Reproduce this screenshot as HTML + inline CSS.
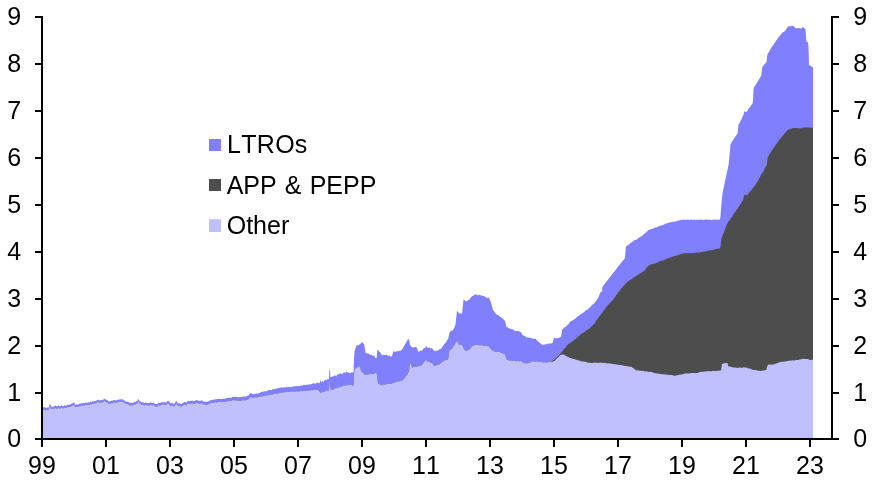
<!DOCTYPE html><html><head><meta charset="utf-8"><title>Chart</title><style>html,body{margin:0;padding:0;background:#fff}svg{display:block}text{font-family:"Liberation Sans",Arial,sans-serif;font-size:25px;fill:#000;font-kerning:none}.lg{word-spacing:1.2px}</style></head><body>
<svg width="875" height="482" viewBox="0 0 875 482">
<rect width="875" height="482" fill="#fff"/>
<path d="M42,439 L42.0,406.5 L42.5,406.5 L43.0,407.5 L43.5,407.5 L44.0,407.1 L44.5,407.1 L45.0,407.6 L45.5,407.6 L46.0,408.0 L46.5,408.0 L47.0,407.4 L47.5,407.5 L48.0,407.4 L48.5,407.5 L49.0,406.9 L49.5,404.8 L50.0,403.0 L50.5,404.6 L51.0,406.5 L51.5,406.5 L52.0,406.7 L52.5,406.7 L53.0,406.8 L53.5,406.8 L54.0,406.2 L54.5,406.1 L55.0,405.6 L55.5,405.6 L56.0,405.9 L56.5,405.8 L57.0,406.7 L57.5,406.6 L58.0,405.6 L58.5,405.6 L59.0,405.9 L59.5,405.8 L60.0,406.5 L60.5,406.4 L61.0,405.1 L61.5,405.1 L62.0,405.9 L62.5,405.8 L63.0,406.3 L63.5,406.2 L64.0,405.2 L64.5,405.2 L65.0,405.6 L65.5,405.4 L66.0,405.8 L66.5,405.7 L67.0,404.5 L67.5,404.4 L68.0,404.8 L68.5,404.7 L69.0,404.9 L69.5,404.7 L70.0,404.5 L70.5,404.4 L71.0,404.0 L71.5,403.8 L72.0,403.3 L72.5,403.2 L73.0,403.5 L73.5,402.7 L74.0,401.8 L74.5,403.3 L75.0,405.0 L75.5,404.7 L76.0,404.3 L76.5,404.2 L77.0,404.8 L77.5,404.7 L78.0,404.5 L78.5,404.4 L79.0,403.7 L79.5,403.6 L80.0,403.9 L80.5,403.8 L81.0,403.3 L81.5,403.2 L82.0,403.4 L82.5,403.3 L83.0,403.0 L83.5,403.0 L84.0,403.3 L84.5,403.2 L85.0,402.7 L85.5,402.6 L86.0,402.7 L86.5,402.6 L87.0,402.8 L87.5,402.8 L88.0,402.2 L88.5,402.1 L89.0,402.7 L89.5,402.7 L90.0,401.6 L90.5,401.5 L91.0,402.1 L91.5,402.0 L92.0,401.5 L92.5,401.4 L93.0,401.3 L93.5,401.2 L94.0,401.4 L94.5,401.3 L95.0,401.0 L95.5,400.9 L96.0,400.7 L96.5,400.6 L97.0,399.9 L97.5,399.8 L98.0,399.8 L98.5,399.7 L99.0,400.5 L99.5,400.4 L100.0,400.0 L100.5,399.9 L101.0,400.1 L101.5,400.0 L102.0,400.2 L102.5,400.1 L103.0,399.7 L103.5,399.6 L104.0,398.6 L104.5,398.7 L105.0,399.2 L105.5,399.3 L106.0,399.9 L106.5,400.0 L107.0,399.6 L107.5,399.8 L108.0,400.9 L108.5,401.1 L109.0,401.2 L109.5,401.3 L110.0,401.3 L110.5,401.2 L111.0,400.7 L111.5,400.6 L112.0,401.1 L112.5,401.0 L113.0,400.0 L113.5,399.9 L114.0,400.1 L114.5,400.0 L115.0,400.2 L115.5,400.2 L116.0,400.5 L116.5,400.4 L117.0,400.0 L117.5,400.0 L118.0,399.4 L118.5,399.4 L119.0,399.6 L119.5,399.6 L120.0,399.5 L120.5,399.4 L121.0,399.3 L121.5,399.3 L122.0,399.0 L122.5,399.2 L123.0,399.8 L123.5,400.0 L124.0,400.2 L124.5,400.4 L125.0,401.0 L125.5,401.2 L126.0,401.5 L126.5,401.7 L127.0,401.5 L127.5,401.7 L128.0,401.8 L128.5,402.0 L129.0,402.6 L129.5,402.8 L130.0,403.1 L130.5,403.1 L131.0,402.7 L131.5,402.7 L132.0,402.8 L132.5,402.7 L133.0,402.9 L133.5,402.8 L134.0,401.5 L134.5,401.4 L135.0,402.5 L135.5,402.3 L136.0,401.3 L136.5,401.1 L137.0,401.2 L137.5,401.0 L138.0,398.4 L138.5,399.3 L139.0,400.1 L139.5,400.9 L140.0,401.0 L140.5,401.3 L141.0,402.3 L141.5,402.5 L142.0,402.0 L142.5,402.0 L143.0,402.4 L143.5,402.4 L144.0,403.0 L144.5,403.0 L145.0,402.5 L145.5,402.5 L146.0,402.7 L146.5,402.7 L147.0,402.9 L147.5,402.9 L148.0,403.0 L148.5,403.0 L149.0,403.0 L149.5,403.0 L150.0,401.9 L150.5,402.0 L151.0,402.7 L151.5,402.8 L152.0,402.9 L152.5,403.0 L153.0,402.5 L153.5,402.6 L154.0,403.4 L154.5,403.5 L155.0,403.7 L155.5,403.8 L156.0,404.2 L156.5,404.1 L157.0,404.1 L157.5,404.0 L158.0,402.8 L158.5,402.7 L159.0,402.8 L159.5,402.7 L160.0,403.2 L160.5,403.1 L161.0,402.3 L161.5,402.2 L162.0,402.2 L162.5,402.1 L163.0,402.5 L163.5,402.4 L164.0,401.8 L164.5,401.7 L165.0,402.4 L165.5,402.4 L166.0,402.4 L166.5,402.3 L167.0,401.0 L167.5,400.9 L168.0,401.5 L168.5,401.1 L169.0,401.0 L169.5,401.8 L170.0,402.9 L170.5,403.7 L171.0,402.8 L171.5,402.9 L172.0,402.8 L172.5,402.8 L173.0,403.7 L173.5,403.7 L174.0,403.7 L174.5,403.7 L175.0,402.6 L175.5,402.6 L176.0,400.5 L176.5,401.1 L177.0,402.1 L177.5,402.7 L178.0,403.5 L178.5,403.6 L179.0,402.8 L179.5,402.9 L180.0,403.7 L180.5,403.8 L181.0,404.1 L181.5,404.0 L182.0,403.5 L182.5,403.3 L183.0,402.7 L183.5,402.5 L184.0,402.2 L184.5,402.0 L185.0,402.3 L185.5,402.1 L186.0,402.7 L186.5,402.6 L187.0,401.3 L187.5,401.2 L188.0,401.0 L188.5,400.9 L189.0,401.4 L189.5,401.3 L190.0,400.8 L190.5,400.8 L191.0,400.8 L191.5,400.7 L192.0,400.5 L192.5,400.4 L193.0,401.1 L193.5,401.0 L194.0,401.1 L194.5,401.1 L195.0,400.7 L195.5,400.6 L196.0,400.2 L196.5,400.1 L197.0,400.3 L197.5,400.2 L198.0,400.4 L198.5,400.4 L199.0,400.7 L199.5,400.8 L200.0,401.0 L200.5,401.1 L201.0,400.3 L201.5,400.4 L202.0,400.3 L202.5,400.4 L203.0,401.4 L203.5,401.5 L204.0,401.7 L204.5,401.8 L205.0,401.4 L205.5,401.6 L206.0,402.0 L206.5,401.8 L207.0,401.8 L207.5,401.7 L208.0,401.3 L208.5,401.2 L209.0,401.3 L209.5,401.2 L210.0,400.3 L210.5,400.1 L211.0,400.2 L211.5,400.1 L212.0,400.0 L212.5,399.9 L213.0,399.6 L213.5,399.5 L214.0,400.1 L214.5,399.9 L215.0,399.0 L215.5,398.9 L216.0,399.4 L216.5,399.3 L217.0,398.8 L217.5,398.7 L218.0,399.0 L218.5,398.9 L219.0,399.0 L219.5,398.9 L220.0,398.7 L220.5,398.7 L221.0,398.9 L221.5,398.9 L222.0,398.9 L222.5,398.9 L223.0,398.6 L223.5,398.6 L224.0,399.0 L224.5,398.9 L225.0,398.4 L225.5,398.3 L226.0,398.2 L226.5,398.1 L227.0,398.1 L227.5,398.0 L228.0,398.0 L228.5,397.8 L229.0,397.6 L229.5,397.5 L230.0,398.0 L230.5,397.9 L231.0,397.7 L231.5,397.6 L232.0,396.9 L232.5,396.8 L233.0,396.9 L233.5,396.9 L234.0,396.8 L234.5,396.8 L235.0,397.0 L235.5,397.0 L236.0,396.8 L236.5,396.8 L237.0,397.0 L237.5,397.0 L238.0,397.4 L238.5,397.4 L239.0,396.9 L239.5,396.9 L240.0,397.1 L240.5,397.1 L241.0,397.1 L241.5,397.0 L242.0,397.1 L242.5,397.0 L243.0,396.3 L243.5,396.2 L244.0,396.7 L244.5,396.6 L245.0,396.7 L245.5,396.6 L246.0,396.2 L246.5,396.2 L247.0,395.8 L247.5,395.7 L248.0,396.0 L248.5,395.3 L249.0,394.7 L249.5,394.1 L250.0,393.4 L250.5,393.5 L251.0,393.1 L251.5,393.2 L252.0,394.0 L252.5,394.1 L253.0,394.1 L253.5,394.2 L254.0,393.8 L254.5,393.9 L255.0,394.1 L255.5,393.9 L256.0,393.3 L256.5,393.2 L257.0,393.9 L257.5,393.8 L258.0,393.5 L258.5,393.3 L259.0,393.0 L259.5,392.9 L260.0,392.9 L260.5,392.8 L261.0,392.1 L261.5,392.0 L262.0,391.9 L262.5,391.8 L263.0,391.6 L263.5,391.5 L264.0,391.7 L264.5,391.5 L265.0,390.9 L265.5,390.8 L266.0,391.4 L266.5,391.3 L267.0,390.7 L267.5,390.6 L268.0,390.5 L268.5,390.3 L269.0,389.9 L269.5,389.8 L270.0,390.2 L270.5,390.1 L271.0,390.1 L271.5,390.0 L272.0,389.7 L272.5,389.6 L273.0,389.1 L273.5,389.0 L274.0,389.4 L274.5,389.3 L275.0,388.6 L275.5,388.5 L276.0,388.9 L276.5,388.8 L277.0,388.5 L277.5,388.4 L278.0,388.0 L278.5,387.9 L279.0,388.0 L279.5,387.9 L280.0,387.8 L280.5,387.7 L281.0,387.3 L281.5,387.2 L282.0,387.7 L282.5,387.7 L283.0,387.3 L283.5,387.3 L284.0,387.7 L284.5,387.6 L285.0,387.5 L285.5,387.5 L286.0,386.8 L286.5,386.8 L287.0,387.2 L287.5,387.2 L288.0,386.9 L288.5,386.8 L289.0,387.2 L289.5,387.2 L290.0,386.9 L290.5,386.9 L291.0,386.8 L291.5,386.8 L292.0,387.1 L292.5,387.1 L293.0,386.3 L293.5,386.2 L294.0,386.6 L294.5,386.5 L295.0,386.3 L295.5,386.2 L296.0,385.9 L296.5,385.8 L297.0,386.4 L297.5,386.3 L298.0,386.0 L298.5,386.0 L299.0,386.2 L299.5,386.1 L300.0,385.8 L300.5,385.7 L301.0,385.4 L301.5,385.3 L302.0,385.9 L302.5,385.8 L303.0,384.9 L303.5,384.9 L304.0,384.7 L304.5,384.7 L305.0,385.2 L305.5,385.1 L306.0,384.7 L306.5,384.7 L307.0,384.6 L307.5,384.5 L308.0,384.9 L308.5,384.8 L309.0,384.2 L309.5,384.2 L310.0,384.6 L310.5,384.5 L311.0,384.2 L311.5,384.1 L312.0,383.8 L312.5,383.7 L313.0,383.4 L313.5,383.3 L314.0,383.4 L314.5,383.3 L315.0,383.9 L315.5,383.8 L316.0,383.2 L316.5,383.1 L317.0,382.8 L317.5,382.7 L318.0,382.7 L318.5,382.6 L319.0,383.3 L319.5,383.2 L320.0,382.0 L320.5,379.1 L321.0,382.4 L321.5,382.2 L322.0,381.0 L322.5,380.8 L323.0,381.9 L323.5,381.7 L324.0,380.8 L324.5,380.6 L325.0,379.6 L325.5,379.4 L326.0,380.6 L326.5,380.4 L327.0,379.2 L327.5,379.0 L328.0,379.4 L328.5,379.1 L329.0,378.5 L329.5,369.5 L330.0,368.8 L330.5,377.2 L331.0,377.1 L331.5,376.9 L332.0,376.8 L332.5,376.6 L333.0,376.5 L333.5,376.2 L334.0,375.8 L334.5,375.6 L335.0,375.4 L335.5,375.2 L336.0,376.4 L336.5,376.2 L337.0,374.6 L337.5,374.4 L338.0,374.8 L338.5,374.6 L339.0,373.7 L339.5,373.5 L340.0,373.4 L340.5,373.3 L341.0,374.1 L341.5,373.9 L342.0,374.1 L342.5,374.0 L343.0,373.1 L343.5,373.0 L344.0,372.1 L344.5,372.0 L345.0,373.4 L345.5,373.3 L346.0,371.7 L346.5,371.7 L347.0,372.2 L347.5,372.2 L348.0,372.4 L348.5,372.4 L349.0,373.0 L349.5,373.0 L350.0,372.9 L350.5,372.9 L351.0,372.5 L351.5,372.5 L352.0,372.2 L352.5,372.2 L353.0,372.6 L353.5,372.6 L354.0,358.9 L354.5,351.9 L355.0,349.4 L355.5,348.2 L356.0,347.0 L356.5,345.8 L357.0,345.2 L357.5,345.1 L358.0,345.3 L358.5,345.3 L359.0,345.0 L359.5,344.6 L360.0,344.1 L360.5,343.5 L361.0,343.3 L361.5,342.9 L362.0,341.8 L362.5,341.9 L363.0,343.2 L363.5,343.8 L364.0,344.1 L364.5,346.2 L365.0,349.6 L365.5,352.3 L366.0,352.9 L366.5,353.1 L367.0,353.5 L367.5,353.7 L368.0,353.5 L368.5,353.6 L369.0,353.9 L369.5,354.0 L370.0,354.9 L370.5,355.1 L371.0,354.7 L371.5,354.8 L372.0,355.6 L372.5,355.8 L373.0,355.6 L373.5,355.7 L374.0,355.4 L374.5,356.0 L375.0,357.4 L375.5,358.0 L376.0,357.8 L376.5,358.4 L377.0,353.9 L377.5,350.0 L378.0,349.7 L378.5,350.2 L379.0,351.5 L379.5,352.0 L380.0,352.1 L380.5,352.7 L381.0,353.5 L381.5,354.1 L382.0,355.3 L382.5,355.3 L383.0,354.8 L383.5,354.8 L384.0,355.0 L384.5,355.0 L385.0,355.0 L385.5,355.0 L386.0,354.4 L386.5,354.4 L387.0,355.1 L387.5,355.4 L388.0,355.7 L388.5,355.9 L389.0,355.3 L389.5,355.6 L390.0,356.2 L390.5,356.4 L391.0,356.4 L391.5,356.6 L392.0,355.7 L392.5,354.4 L393.0,352.4 L393.5,351.0 L394.0,351.5 L394.5,351.4 L395.0,351.7 L395.5,351.7 L396.0,351.6 L396.5,351.5 L397.0,350.9 L397.5,350.8 L398.0,351.5 L398.5,351.4 L399.0,350.6 L399.5,350.5 L400.0,350.9 L400.5,350.7 L401.0,350.2 L401.5,350.1 L402.0,349.6 L402.5,348.6 L403.0,348.1 L403.5,347.1 L404.0,346.2 L404.5,345.2 L405.0,344.3 L405.5,343.4 L406.0,342.8 L406.5,342.0 L407.0,340.5 L407.5,340.1 L408.0,339.6 L408.5,339.2 L409.0,338.7 L409.5,341.6 L410.0,344.9 L410.5,345.6 L411.0,346.0 L411.5,346.7 L412.0,347.3 L412.5,347.3 L413.0,347.4 L413.5,347.4 L414.0,347.2 L414.5,347.2 L415.0,346.9 L415.5,346.9 L416.0,347.4 L416.5,347.4 L417.0,347.2 L417.5,349.2 L418.0,351.4 L418.5,351.3 L419.0,351.7 L419.5,351.6 L420.0,350.7 L420.5,350.6 L421.0,351.0 L421.5,350.8 L422.0,350.4 L422.5,349.9 L423.0,349.1 L423.5,348.6 L424.0,348.3 L424.5,347.9 L425.0,347.9 L425.5,347.4 L426.0,346.3 L426.5,346.6 L427.0,347.2 L427.5,347.4 L428.0,347.7 L428.5,347.8 L429.0,347.5 L429.5,347.6 L430.0,348.3 L430.5,348.4 L431.0,348.1 L431.5,348.2 L432.0,348.2 L432.5,348.8 L433.0,349.6 L433.5,350.2 L434.0,350.5 L434.5,351.1 L435.0,351.3 L435.5,351.1 L436.0,350.5 L436.5,350.4 L437.0,350.9 L437.5,350.8 L438.0,350.2 L438.5,350.1 L439.0,349.6 L439.5,349.5 L440.0,349.5 L440.5,348.9 L441.0,348.8 L441.5,348.2 L442.0,347.5 L442.5,346.8 L443.0,345.9 L443.5,345.3 L444.0,344.6 L444.5,343.9 L445.0,343.2 L445.5,342.5 L446.0,342.4 L446.5,341.7 L447.0,340.1 L447.5,339.4 L448.0,339.5 L448.5,337.3 L449.0,335.1 L449.5,333.0 L450.0,331.9 L450.5,331.5 L451.0,331.2 L451.5,330.8 L452.0,330.7 L452.5,330.3 L453.0,330.1 L453.5,329.0 L454.0,328.0 L454.5,326.9 L455.0,325.8 L455.5,324.7 L456.0,319.6 L456.5,315.2 L457.0,310.8 L457.5,311.3 L458.0,312.0 L458.5,312.5 L459.0,313.1 L459.5,313.2 L460.0,313.5 L460.5,313.6 L461.0,313.2 L461.5,313.4 L462.0,314.0 L462.5,309.1 L463.0,304.4 L463.5,299.4 L464.0,299.8 L464.5,300.2 L465.0,300.6 L465.5,301.0 L466.0,301.3 L466.5,301.2 L467.0,301.0 L467.5,300.9 L468.0,299.8 L468.5,299.6 L469.0,300.3 L469.5,299.7 L470.0,298.5 L470.5,297.9 L471.0,297.4 L471.5,296.8 L472.0,296.3 L472.5,295.8 L473.0,296.0 L473.5,295.7 L474.0,295.0 L474.5,294.7 L475.0,294.2 L475.5,294.3 L476.0,294.4 L476.5,294.5 L477.0,295.1 L477.5,295.2 L478.0,295.2 L478.5,295.3 L479.0,294.7 L479.5,294.8 L480.0,295.0 L480.5,295.2 L481.0,295.4 L481.5,295.6 L482.0,295.5 L482.5,295.7 L483.0,296.1 L483.5,296.3 L484.0,296.1 L484.5,296.2 L485.0,296.7 L485.5,296.9 L486.0,297.4 L486.5,297.6 L487.0,297.7 L487.5,297.9 L488.0,297.3 L488.5,297.5 L489.0,297.8 L489.5,299.0 L490.0,300.3 L490.5,301.5 L491.0,302.8 L491.5,304.7 L492.0,306.3 L492.5,308.2 L493.0,310.0 L493.5,310.6 L494.0,311.3 L494.5,311.9 L495.0,312.4 L495.5,313.0 L496.0,314.3 L496.5,314.6 L497.0,314.7 L497.5,315.0 L498.0,315.1 L498.5,315.4 L499.0,316.0 L499.5,316.3 L500.0,316.4 L500.5,316.9 L501.0,317.3 L501.5,317.8 L502.0,318.1 L502.5,318.5 L503.0,319.0 L503.5,319.3 L504.0,320.2 L504.5,320.6 L505.0,320.8 L505.5,323.0 L506.0,325.2 L506.5,327.3 L507.0,326.9 L507.5,327.2 L508.0,327.8 L508.5,328.1 L509.0,328.2 L509.5,328.5 L510.0,328.5 L510.5,328.6 L511.0,329.1 L511.5,329.2 L512.0,329.1 L512.5,329.2 L513.0,329.5 L513.5,329.7 L514.0,330.4 L514.5,330.5 L515.0,330.6 L515.5,330.7 L516.0,330.9 L516.5,331.1 L517.0,330.7 L517.5,330.8 L518.0,331.1 L518.5,331.3 L519.0,331.4 L519.5,331.6 L520.0,331.8 L520.5,332.0 L521.0,332.2 L521.5,332.7 L522.0,334.1 L522.5,334.7 L523.0,335.1 L523.5,335.7 L524.0,335.5 L524.5,335.7 L525.0,336.0 L525.5,336.2 L526.0,337.2 L526.5,337.4 L527.0,337.2 L527.5,337.4 L528.0,337.5 L528.5,337.5 L529.0,337.7 L529.5,337.8 L530.0,337.7 L530.5,337.7 L531.0,338.1 L531.5,338.2 L532.0,338.4 L532.5,338.5 L533.0,338.4 L533.5,338.6 L534.0,339.0 L534.5,339.1 L535.0,338.5 L535.5,338.6 L536.0,339.2 L536.5,339.8 L537.0,340.7 L537.5,341.3 L538.0,341.0 L538.5,341.6 L539.0,342.5 L539.5,342.8 L540.0,343.2 L540.5,343.5 L541.0,343.4 L541.5,343.7 L542.0,344.6 L542.5,344.9 L543.0,344.7 L543.5,344.6 L544.0,344.5 L544.5,344.4 L545.0,344.7 L545.5,344.6 L546.0,343.7 L546.5,343.6 L547.0,344.3 L547.5,344.2 L548.0,343.5 L548.5,343.4 L549.0,343.6 L549.5,343.6 L550.0,343.6 L550.5,343.6 L551.0,343.5 L551.5,343.5 L552.0,343.1 L552.5,343.1 L553.0,341.4 L553.5,339.5 L554.0,337.7 L554.5,337.7 L555.0,338.2 L555.5,338.2 L556.0,338.2 L556.5,338.2 L557.0,338.1 L557.5,337.9 L558.0,338.0 L558.5,337.9 L559.0,337.8 L559.5,337.6 L560.0,337.2 L560.5,337.1 L561.0,336.8 L561.5,333.9 L562.0,329.7 L562.5,329.3 L563.0,328.7 L563.5,328.2 L564.0,327.6 L564.5,327.2 L565.0,327.3 L565.5,326.9 L566.0,326.4 L566.5,326.0 L567.0,325.3 L567.5,324.9 L568.0,324.5 L568.5,324.1 L569.0,323.7 L569.5,322.6 L570.0,321.7 L570.5,321.5 L571.0,321.0 L571.5,320.9 L572.0,320.7 L572.5,320.6 L573.0,320.2 L573.5,319.8 L574.0,319.4 L574.5,319.0 L575.0,318.8 L575.5,318.4 L576.0,317.8 L576.5,317.4 L577.0,316.9 L577.5,316.5 L578.0,316.3 L578.5,315.9 L579.0,315.7 L579.5,315.3 L580.0,314.6 L580.5,314.2 L581.0,314.2 L581.5,313.9 L582.0,313.4 L582.5,313.1 L583.0,312.7 L583.5,312.4 L584.0,312.2 L584.5,311.8 L585.0,311.0 L585.5,310.6 L586.0,310.3 L586.5,310.0 L587.0,310.1 L587.5,309.7 L588.0,309.3 L588.5,308.8 L589.0,307.9 L589.5,307.5 L590.0,307.4 L590.5,307.0 L591.0,306.1 L591.5,305.6 L592.0,305.3 L592.5,304.8 L593.0,304.3 L593.5,303.9 L594.0,303.6 L594.5,302.9 L595.0,302.3 L595.5,301.6 L596.0,301.2 L596.5,300.5 L597.0,299.6 L597.5,298.9 L598.0,298.0 L598.5,297.3 L599.0,296.1 L599.5,294.6 L600.0,293.0 L600.5,292.5 L601.0,292.0 L601.5,291.4 L602.0,291.2 L602.5,286.8 L603.0,286.2 L603.5,285.6 L604.0,284.8 L604.5,284.1 L605.0,283.6 L605.5,282.9 L606.0,282.1 L606.5,281.5 L607.0,281.2 L607.5,280.5 L608.0,279.7 L608.5,279.1 L609.0,278.3 L609.5,277.7 L610.0,277.2 L610.5,276.6 L611.0,275.7 L611.5,275.1 L612.0,274.5 L612.5,273.8 L613.0,273.1 L613.5,272.4 L614.0,272.1 L614.5,271.5 L615.0,270.5 L615.5,269.9 L616.0,269.6 L616.5,269.0 L617.0,268.0 L617.5,267.3 L618.0,266.5 L618.5,265.9 L619.0,265.6 L619.5,264.9 L620.0,264.3 L620.5,263.6 L621.0,263.1 L621.5,262.5 L622.0,261.4 L622.5,260.8 L623.0,260.6 L623.5,260.0 L624.0,259.4 L624.5,258.8 L625.0,256.8 L625.5,251.1 L626.0,246.6 L626.5,246.2 L627.0,245.9 L627.5,245.5 L628.0,244.9 L628.5,244.4 L629.0,244.4 L629.5,244.0 L630.0,243.5 L630.5,243.1 L631.0,242.8 L631.5,242.5 L632.0,241.9 L632.5,241.6 L633.0,241.4 L633.5,241.1 L634.0,240.6 L634.5,240.3 L635.0,240.1 L635.5,239.8 L636.0,239.7 L636.5,239.4 L637.0,239.3 L637.5,239.0 L638.0,238.2 L638.5,237.9 L639.0,237.5 L639.5,237.2 L640.0,236.9 L640.5,236.6 L641.0,236.6 L641.5,236.3 L642.0,236.0 L642.5,235.6 L643.0,234.8 L643.5,234.4 L644.0,234.1 L644.5,233.7 L645.0,233.3 L645.5,232.9 L646.0,232.6 L646.5,232.2 L647.0,231.4 L647.5,230.9 L648.0,230.4 L648.5,230.0 L649.0,230.0 L649.5,229.8 L650.0,229.5 L650.5,229.3 L651.0,229.1 L651.5,228.9 L652.0,229.0 L652.5,228.8 L653.0,228.6 L653.5,228.4 L654.0,227.8 L654.5,227.6 L655.0,227.7 L655.5,227.5 L656.0,227.5 L656.5,227.3 L657.0,227.2 L657.5,227.0 L658.0,226.2 L658.5,226.1 L659.0,226.4 L659.5,226.2 L660.0,225.5 L660.5,225.4 L661.0,225.6 L661.5,225.4 L662.0,225.2 L662.5,225.0 L663.0,225.0 L663.5,224.8 L664.0,224.5 L664.5,224.3 L665.0,223.8 L665.5,223.6 L666.0,223.8 L666.5,223.6 L667.0,223.2 L667.5,223.0 L668.0,223.1 L668.5,223.0 L669.0,222.4 L669.5,222.3 L670.0,222.4 L670.5,222.2 L671.0,222.3 L671.5,222.2 L672.0,221.8 L672.5,221.7 L673.0,221.9 L673.5,221.8 L674.0,221.7 L674.5,221.6 L675.0,221.5 L675.5,221.4 L676.0,221.4 L676.5,221.3 L677.0,220.9 L677.5,220.8 L678.0,220.5 L678.5,220.4 L679.0,220.4 L679.5,220.3 L680.0,220.3 L680.5,220.1 L681.0,219.8 L681.5,219.7 L682.0,220.0 L682.5,219.9 L683.0,219.4 L683.5,219.4 L684.0,219.4 L684.5,219.4 L685.0,220.0 L685.5,220.0 L686.0,219.9 L686.5,219.9 L687.0,219.6 L687.5,219.6 L688.0,219.6 L688.5,219.6 L689.0,219.9 L689.5,219.9 L690.0,219.8 L690.5,219.8 L691.0,219.6 L691.5,219.6 L692.0,219.7 L692.5,219.7 L693.0,219.9 L693.5,219.9 L694.0,219.4 L694.5,219.4 L695.0,220.0 L695.5,220.0 L696.0,219.7 L696.5,219.7 L697.0,219.5 L697.5,219.5 L698.0,219.9 L698.5,219.9 L699.0,219.4 L699.5,219.4 L700.0,219.6 L700.5,219.6 L701.0,219.7 L701.5,219.7 L702.0,219.5 L702.5,219.5 L703.0,219.9 L703.5,219.9 L704.0,219.8 L704.5,219.8 L705.0,219.5 L705.5,219.5 L706.0,219.5 L706.5,219.5 L707.0,219.4 L707.5,219.4 L708.0,219.7 L708.5,219.7 L709.0,219.5 L709.5,219.5 L710.0,219.7 L710.5,219.7 L711.0,219.9 L711.5,219.9 L712.0,219.9 L712.5,219.9 L713.0,219.5 L713.5,219.5 L714.0,219.6 L714.5,219.6 L715.0,219.7 L715.5,219.7 L716.0,219.6 L716.5,219.6 L717.0,219.7 L717.5,219.7 L718.0,219.7 L718.5,219.6 L719.0,219.7 L719.5,219.6 L720.0,219.2 L720.5,215.9 L721.0,208.4 L721.5,203.2 L722.0,198.1 L722.5,193.4 L723.0,190.9 L723.5,188.4 L724.0,186.3 L724.5,183.8 L725.0,181.3 L725.5,178.8 L726.0,176.8 L726.5,174.6 L727.0,172.3 L727.5,170.0 L728.0,167.4 L728.5,165.1 L729.0,160.9 L729.5,155.4 L730.0,150.2 L730.5,144.5 L731.0,143.6 L731.5,142.7 L732.0,141.5 L732.5,140.7 L733.0,140.2 L733.5,139.4 L734.0,138.5 L734.5,137.8 L735.0,137.3 L735.5,136.5 L736.0,135.7 L736.5,135.0 L737.0,134.4 L737.5,133.6 L738.0,129.8 L738.5,124.6 L739.0,123.8 L739.5,123.0 L740.0,121.7 L740.5,120.9 L741.0,120.1 L741.5,119.2 L742.0,118.1 L742.5,116.7 L743.0,115.8 L743.5,114.4 L744.0,112.6 L744.5,111.2 L745.0,111.4 L745.5,111.7 L746.0,111.9 L746.5,111.8 L747.0,111.3 L747.5,110.7 L748.0,109.7 L748.5,109.1 L749.0,108.2 L749.5,107.6 L750.0,107.0 L750.5,106.4 L751.0,105.5 L751.5,104.8 L752.0,104.3 L752.5,103.6 L753.0,101.1 L753.5,90.2 L754.0,87.1 L754.5,86.3 L755.0,86.1 L755.5,85.3 L756.0,84.3 L756.5,83.5 L757.0,82.6 L757.5,81.8 L758.0,81.3 L758.5,80.4 L759.0,79.2 L759.5,78.4 L760.0,77.7 L760.5,76.8 L761.0,76.4 L761.5,73.6 L762.0,69.2 L762.5,66.5 L763.0,66.2 L763.5,65.7 L764.0,64.7 L764.5,64.1 L765.0,63.8 L765.5,63.3 L766.0,62.8 L766.5,62.2 L767.0,56.9 L767.5,54.3 L768.0,53.5 L768.5,52.6 L769.0,51.8 L769.5,50.9 L770.0,50.0 L770.5,49.1 L771.0,48.0 L771.5,47.2 L772.0,46.6 L772.5,45.9 L773.0,45.5 L773.5,44.8 L774.0,43.7 L774.5,43.0 L775.0,42.5 L775.5,41.8 L776.0,40.8 L776.5,40.0 L777.0,39.5 L777.5,38.8 L778.0,38.1 L778.5,37.4 L779.0,36.8 L779.5,36.1 L780.0,35.5 L780.5,34.9 L781.0,34.3 L781.5,33.7 L782.0,33.0 L782.5,32.5 L783.0,32.3 L783.5,32.0 L784.0,31.7 L784.5,31.4 L785.0,30.8 L785.5,30.5 L786.0,29.8 L786.5,28.8 L787.0,27.5 L787.5,26.9 L788.0,26.6 L788.5,26.4 L789.0,26.3 L789.5,26.1 L790.0,26.4 L790.5,26.3 L791.0,26.2 L791.5,26.1 L792.0,25.8 L792.5,25.7 L793.0,26.0 L793.5,26.3 L794.0,26.5 L794.5,27.1 L795.0,27.8 L795.5,28.1 L796.0,28.3 L796.5,28.3 L797.0,28.3 L797.5,28.4 L798.0,28.1 L798.5,28.1 L799.0,28.0 L799.5,28.1 L800.0,28.4 L800.5,28.4 L801.0,28.6 L801.5,28.6 L802.0,27.9 L802.5,27.1 L803.0,27.1 L803.5,27.5 L804.0,28.0 L804.5,28.3 L805.0,28.7 L805.5,28.9 L806.0,36.1 L806.5,41.8 L807.0,41.8 L807.5,42.0 L808.0,42.5 L808.5,46.5 L809.0,64.9 L809.5,65.2 L810.0,65.4 L810.5,65.7 L811.0,66.1 L811.5,66.4 L812.0,66.9 L812.5,67.0 L813.0,67.2 L813,439 Z" fill="#8080ff"/>
<path d="M42,439 L42.0,408.8 L42.5,408.8 L43.0,409.8 L43.5,409.9 L44.0,409.4 L44.5,409.4 L45.0,409.9 L45.5,409.9 L46.0,410.3 L46.5,410.3 L47.0,409.7 L47.5,409.8 L48.0,409.7 L48.5,409.8 L49.0,409.2 L49.5,407.1 L50.0,405.3 L50.5,406.9 L51.0,408.8 L51.5,408.8 L52.0,409.0 L52.5,409.0 L53.0,409.1 L53.5,409.1 L54.0,408.5 L54.5,408.4 L55.0,408.0 L55.5,407.9 L56.0,408.2 L56.5,408.2 L57.0,409.0 L57.5,409.0 L58.0,407.9 L58.5,407.9 L59.0,408.2 L59.5,408.2 L60.0,408.8 L60.5,408.8 L61.0,407.5 L61.5,407.4 L62.0,408.2 L62.5,408.1 L63.0,408.6 L63.5,408.6 L64.0,407.5 L64.5,407.5 L65.0,407.9 L65.5,407.8 L66.0,408.1 L66.5,408.0 L67.0,406.8 L67.5,406.7 L68.0,407.1 L68.5,407.0 L69.0,407.2 L69.5,407.1 L70.0,406.8 L70.5,406.7 L71.0,406.3 L71.5,406.2 L72.0,405.7 L72.5,405.5 L73.0,405.8 L73.5,405.1 L74.0,404.2 L74.5,405.7 L75.0,407.3 L75.5,407.1 L76.0,406.6 L76.5,406.6 L77.0,407.1 L77.5,407.0 L78.0,406.9 L78.5,406.8 L79.0,406.0 L79.5,405.9 L80.0,406.2 L80.5,406.1 L81.0,405.6 L81.5,405.5 L82.0,405.7 L82.5,405.6 L83.0,405.4 L83.5,405.3 L84.0,405.6 L84.5,405.5 L85.0,405.1 L85.5,405.0 L86.0,405.0 L86.5,404.9 L87.0,405.2 L87.5,405.1 L88.0,404.6 L88.5,404.5 L89.0,405.1 L89.5,405.0 L90.0,403.9 L90.5,403.8 L91.0,404.5 L91.5,404.4 L92.0,403.8 L92.5,403.7 L93.0,403.6 L93.5,403.5 L94.0,403.7 L94.5,403.6 L95.0,403.4 L95.5,403.3 L96.0,403.0 L96.5,402.9 L97.0,402.3 L97.5,402.2 L98.0,402.2 L98.5,402.1 L99.0,402.8 L99.5,402.7 L100.0,402.4 L100.5,402.3 L101.0,402.4 L101.5,402.3 L102.0,402.6 L102.5,402.5 L103.0,402.0 L103.5,401.9 L104.0,400.9 L104.5,401.1 L105.0,401.6 L105.5,401.7 L106.0,402.2 L106.5,402.4 L107.0,402.0 L107.5,402.1 L108.0,403.3 L108.5,403.4 L109.0,403.5 L109.5,403.7 L110.0,403.7 L110.5,403.6 L111.0,403.0 L111.5,403.0 L112.0,403.4 L112.5,403.4 L113.0,402.3 L113.5,402.3 L114.0,402.5 L114.5,402.4 L115.0,402.6 L115.5,402.5 L116.0,402.9 L116.5,402.8 L117.0,402.4 L117.5,402.3 L118.0,401.8 L118.5,401.7 L119.0,402.0 L119.5,401.9 L120.0,401.8 L120.5,401.8 L121.0,401.7 L121.5,401.6 L122.0,401.4 L122.5,401.6 L123.0,402.1 L123.5,402.3 L124.0,402.6 L124.5,402.8 L125.0,403.4 L125.5,403.6 L126.0,403.8 L126.5,404.0 L127.0,403.8 L127.5,404.0 L128.0,404.1 L128.5,404.3 L129.0,405.0 L129.5,405.2 L130.0,405.5 L130.5,405.5 L131.0,405.1 L131.5,405.0 L132.0,405.2 L132.5,405.1 L133.0,405.2 L133.5,405.2 L134.0,403.9 L134.5,403.8 L135.0,404.9 L135.5,404.7 L136.0,403.7 L136.5,403.5 L137.0,403.6 L137.5,403.4 L138.0,400.8 L138.5,401.7 L139.0,402.4 L139.5,403.3 L140.0,403.4 L140.5,403.7 L141.0,404.7 L141.5,404.9 L142.0,404.4 L142.5,404.4 L143.0,404.8 L143.5,404.8 L144.0,405.4 L144.5,405.4 L145.0,404.9 L145.5,404.9 L146.0,405.1 L146.5,405.1 L147.0,405.3 L147.5,405.3 L148.0,405.4 L148.5,405.4 L149.0,405.4 L149.5,405.4 L150.0,404.3 L150.5,404.4 L151.0,405.1 L151.5,405.2 L152.0,405.3 L152.5,405.4 L153.0,405.0 L153.5,405.0 L154.0,405.8 L154.5,405.9 L155.0,406.1 L155.5,406.2 L156.0,406.6 L156.5,406.5 L157.0,406.6 L157.5,406.5 L158.0,405.3 L158.5,405.2 L159.0,405.2 L159.5,405.2 L160.0,405.7 L160.5,405.6 L161.0,404.8 L161.5,404.7 L162.0,404.7 L162.5,404.6 L163.0,405.0 L163.5,404.9 L164.0,404.3 L164.5,404.2 L165.0,405.0 L165.5,404.9 L166.0,404.9 L166.5,404.8 L167.0,403.6 L167.5,403.5 L168.0,404.1 L168.5,403.6 L169.0,403.6 L169.5,404.4 L170.0,405.4 L170.5,406.2 L171.0,405.4 L171.5,405.5 L172.0,405.4 L172.5,405.4 L173.0,406.3 L173.5,406.3 L174.0,406.3 L174.5,406.3 L175.0,405.2 L175.5,405.2 L176.0,403.1 L176.5,403.7 L177.0,404.7 L177.5,405.3 L178.0,406.1 L178.5,406.2 L179.0,405.4 L179.5,405.5 L180.0,406.3 L180.5,406.5 L181.0,406.8 L181.5,406.6 L182.0,406.1 L182.5,406.0 L183.0,405.3 L183.5,405.2 L184.0,404.9 L184.5,404.7 L185.0,404.9 L185.5,404.8 L186.0,405.4 L186.5,405.3 L187.0,404.0 L187.5,403.9 L188.0,403.7 L188.5,403.7 L189.0,404.1 L189.5,404.0 L190.0,403.5 L190.5,403.5 L191.0,403.5 L191.5,403.5 L192.0,403.2 L192.5,403.2 L193.0,403.8 L193.5,403.7 L194.0,403.9 L194.5,403.8 L195.0,403.4 L195.5,403.3 L196.0,402.9 L196.5,402.9 L197.0,403.0 L197.5,403.0 L198.0,403.2 L198.5,403.2 L199.0,403.5 L199.5,403.6 L200.0,403.8 L200.5,403.9 L201.0,403.2 L201.5,403.3 L202.0,403.1 L202.5,403.3 L203.0,404.3 L203.5,404.4 L204.0,404.6 L204.5,404.7 L205.0,404.3 L205.5,404.4 L206.0,404.9 L206.5,404.7 L207.0,404.7 L207.5,404.6 L208.0,404.2 L208.5,404.1 L209.0,404.2 L209.5,404.1 L210.0,403.2 L210.5,403.1 L211.0,403.2 L211.5,403.1 L212.0,403.0 L212.5,402.9 L213.0,402.6 L213.5,402.5 L214.0,403.1 L214.5,403.0 L215.0,402.1 L215.5,402.0 L216.0,402.4 L216.5,402.4 L217.0,401.8 L217.5,401.8 L218.0,402.1 L218.5,402.0 L219.0,402.1 L219.5,402.0 L220.0,401.8 L220.5,401.8 L221.0,402.1 L221.5,402.1 L222.0,402.1 L222.5,402.0 L223.0,401.8 L223.5,401.8 L224.0,402.2 L224.5,402.1 L225.0,401.6 L225.5,401.5 L226.0,401.4 L226.5,401.3 L227.0,401.4 L227.5,401.3 L228.0,401.2 L228.5,401.1 L229.0,400.9 L229.5,400.8 L230.0,401.3 L230.5,401.2 L231.0,401.1 L231.5,401.0 L232.0,400.2 L232.5,400.1 L233.0,400.3 L233.5,400.3 L234.0,400.2 L234.5,400.2 L235.0,400.4 L235.5,400.4 L236.0,400.3 L236.5,400.3 L237.0,400.5 L237.5,400.5 L238.0,400.9 L238.5,400.9 L239.0,400.4 L239.5,400.4 L240.0,400.7 L240.5,400.7 L241.0,400.7 L241.5,400.6 L242.0,400.7 L242.5,400.6 L243.0,399.9 L243.5,399.8 L244.0,400.4 L244.5,400.3 L245.0,400.4 L245.5,400.3 L246.0,399.9 L246.5,399.9 L247.0,399.5 L247.5,399.4 L248.0,399.7 L248.5,399.1 L249.0,398.5 L249.5,397.9 L250.0,397.2 L250.5,397.3 L251.0,396.9 L251.5,396.9 L252.0,397.7 L252.5,397.7 L253.0,397.7 L253.5,397.8 L254.0,397.4 L254.5,397.4 L255.0,397.3 L255.5,397.2 L256.0,397.5 L256.5,397.4 L257.0,397.4 L257.5,397.4 L258.0,397.0 L258.5,396.9 L259.0,396.6 L259.5,396.5 L260.0,396.7 L260.5,396.7 L261.0,396.4 L261.5,396.3 L262.0,396.6 L262.5,396.5 L263.0,396.0 L263.5,395.9 L264.0,395.8 L264.5,395.7 L265.0,395.8 L265.5,395.7 L266.0,395.6 L266.5,395.5 L267.0,395.3 L267.5,395.2 L268.0,395.2 L268.5,395.1 L269.0,395.2 L269.5,395.1 L270.0,394.8 L270.5,394.7 L271.0,394.3 L271.5,394.2 L272.0,394.4 L272.5,394.3 L273.0,394.2 L273.5,394.1 L274.0,394.0 L274.5,393.9 L275.0,393.5 L275.5,393.4 L276.0,393.4 L276.5,393.3 L277.0,393.7 L277.5,393.6 L278.0,393.4 L278.5,393.3 L279.0,393.2 L279.5,393.1 L280.0,392.9 L280.5,392.8 L281.0,392.5 L281.5,392.4 L282.0,392.7 L282.5,392.7 L283.0,392.2 L283.5,392.2 L284.0,392.3 L284.5,392.3 L285.0,392.2 L285.5,392.2 L286.0,392.0 L286.5,392.0 L287.0,391.8 L287.5,391.8 L288.0,391.8 L288.5,391.8 L289.0,391.9 L289.5,391.9 L290.0,391.6 L290.5,391.6 L291.0,391.6 L291.5,391.5 L292.0,391.5 L292.5,391.4 L293.0,391.4 L293.5,391.4 L294.0,391.7 L294.5,391.7 L295.0,391.4 L295.5,391.4 L296.0,391.0 L296.5,391.0 L297.0,391.5 L297.5,391.4 L298.0,391.3 L298.5,391.2 L299.0,391.4 L299.5,391.4 L300.0,391.1 L300.5,391.1 L301.0,391.0 L301.5,390.9 L302.0,391.3 L302.5,391.3 L303.0,390.8 L303.5,390.7 L304.0,390.8 L304.5,390.8 L305.0,390.9 L305.5,390.8 L306.0,391.1 L306.5,391.0 L307.0,390.4 L307.5,390.4 L308.0,390.5 L308.5,390.4 L309.0,390.5 L309.5,390.5 L310.0,390.5 L310.5,390.5 L311.0,390.0 L311.5,390.0 L312.0,390.4 L312.5,390.3 L313.0,390.1 L313.5,390.1 L314.0,390.0 L314.5,390.0 L315.0,389.8 L315.5,389.8 L316.0,389.7 L316.5,389.6 L317.0,390.1 L317.5,390.0 L318.0,390.1 L318.5,390.9 L319.0,390.8 L319.5,391.5 L320.0,392.3 L320.5,393.1 L321.0,393.0 L321.5,392.3 L322.0,391.8 L322.5,392.0 L323.0,392.2 L323.5,392.3 L324.0,391.9 L324.5,391.6 L325.0,391.3 L325.5,391.1 L326.0,390.7 L326.5,390.5 L327.0,390.6 L327.5,390.4 L328.0,390.4 L328.5,390.4 L329.0,390.7 L329.5,381.8 L330.0,380.8 L330.5,389.4 L331.0,389.4 L331.5,389.3 L332.0,389.9 L332.5,389.9 L333.0,389.8 L333.5,389.6 L334.0,388.8 L334.5,388.6 L335.0,388.4 L335.5,388.2 L336.0,388.0 L336.5,387.8 L337.0,388.3 L337.5,388.2 L338.0,387.6 L338.5,387.4 L339.0,387.1 L339.5,387.0 L340.0,387.3 L340.5,387.1 L341.0,386.3 L341.5,386.2 L342.0,386.5 L342.5,386.4 L343.0,385.7 L343.5,385.5 L344.0,385.3 L344.5,385.2 L345.0,385.7 L345.5,385.6 L346.0,385.5 L346.5,385.5 L347.0,385.1 L347.5,385.1 L348.0,385.0 L348.5,385.0 L349.0,385.4 L349.5,385.3 L350.0,384.6 L350.5,384.6 L351.0,384.8 L351.5,384.8 L352.0,385.5 L352.5,385.4 L353.0,385.4 L353.5,385.4 L354.0,375.4 L354.5,369.6 L355.0,368.9 L355.5,368.3 L356.0,368.2 L356.5,367.9 L357.0,367.4 L357.5,367.1 L358.0,367.0 L358.5,366.7 L359.0,366.5 L359.5,366.5 L360.0,366.3 L360.5,368.4 L361.0,370.7 L361.5,371.3 L362.0,371.8 L362.5,372.5 L363.0,372.5 L363.5,373.0 L364.0,373.9 L364.5,374.4 L365.0,374.9 L365.5,375.0 L366.0,375.0 L366.5,374.9 L367.0,374.7 L367.5,374.6 L368.0,374.4 L368.5,374.3 L369.0,374.4 L369.5,374.3 L370.0,373.7 L370.5,373.7 L371.0,373.8 L371.5,373.8 L372.0,374.0 L372.5,374.0 L373.0,374.2 L373.5,374.2 L374.0,373.8 L374.5,373.6 L375.0,373.2 L375.5,373.0 L376.0,372.9 L376.5,373.4 L377.0,374.0 L377.5,379.3 L378.0,383.4 L378.5,383.6 L379.0,384.1 L379.5,384.3 L380.0,384.7 L380.5,384.8 L381.0,384.6 L381.5,384.7 L382.0,385.4 L382.5,385.2 L383.0,384.7 L383.5,384.6 L384.0,384.6 L384.5,384.5 L385.0,384.7 L385.5,384.6 L386.0,384.3 L386.5,384.2 L387.0,383.9 L387.5,383.9 L388.0,384.1 L388.5,384.1 L389.0,383.9 L389.5,383.9 L390.0,384.1 L390.5,384.1 L391.0,383.7 L391.5,383.7 L392.0,383.4 L392.5,383.1 L393.0,383.3 L393.5,383.1 L394.0,382.8 L394.5,382.7 L395.0,382.4 L395.5,382.3 L396.0,381.8 L396.5,381.6 L397.0,382.1 L397.5,381.9 L398.0,381.1 L398.5,381.0 L399.0,381.6 L399.5,381.5 L400.0,380.9 L400.5,380.8 L401.0,380.6 L401.5,380.5 L402.0,380.9 L402.5,380.4 L403.0,379.9 L403.5,379.4 L404.0,378.8 L404.5,378.3 L405.0,377.8 L405.5,377.1 L406.0,375.9 L406.5,375.2 L407.0,375.1 L407.5,374.2 L408.0,373.2 L408.5,372.3 L409.0,371.2 L409.5,366.7 L410.0,362.4 L410.5,363.6 L411.0,364.5 L411.5,365.8 L412.0,367.5 L412.5,367.5 L413.0,367.3 L413.5,367.3 L414.0,366.8 L414.5,366.8 L415.0,366.8 L415.5,366.7 L416.0,366.7 L416.5,366.7 L417.0,366.8 L417.5,366.6 L418.0,366.3 L418.5,366.2 L419.0,366.1 L419.5,366.0 L420.0,366.0 L420.5,365.9 L421.0,365.5 L421.5,365.3 L422.0,365.1 L422.5,364.5 L423.0,363.6 L423.5,363.0 L424.0,362.3 L424.5,361.7 L425.0,361.1 L425.5,360.5 L426.0,359.6 L426.5,360.0 L427.0,360.9 L427.5,361.4 L428.0,361.2 L428.5,361.4 L429.0,361.9 L429.5,362.1 L430.0,362.6 L430.5,362.8 L431.0,362.4 L431.5,362.6 L432.0,363.2 L432.5,363.8 L433.0,364.6 L433.5,365.2 L434.0,365.9 L434.5,366.5 L435.0,365.8 L435.5,365.6 L436.0,365.5 L436.5,365.3 L437.0,365.3 L437.5,365.1 L438.0,364.7 L438.5,364.4 L439.0,364.4 L439.5,364.2 L440.0,363.8 L440.5,363.5 L441.0,362.6 L441.5,362.2 L442.0,362.0 L442.5,361.7 L443.0,361.7 L443.5,361.3 L444.0,360.6 L444.5,360.5 L445.0,360.3 L445.5,360.2 L446.0,360.0 L446.5,359.9 L447.0,359.7 L447.5,359.6 L448.0,359.8 L448.5,356.7 L449.0,353.4 L449.5,350.2 L450.0,350.2 L450.5,349.8 L451.0,348.8 L451.5,348.4 L452.0,348.6 L452.5,348.2 L453.0,347.2 L453.5,346.3 L454.0,345.9 L454.5,345.0 L455.0,343.8 L455.5,342.9 L456.0,342.4 L456.5,341.8 L457.0,341.0 L457.5,341.9 L458.0,342.6 L458.5,343.5 L459.0,345.0 L459.5,345.0 L460.0,344.8 L460.5,344.8 L461.0,344.5 L461.5,344.5 L462.0,344.8 L462.5,346.0 L463.0,347.0 L463.5,348.3 L464.0,349.0 L464.5,349.6 L465.0,350.2 L465.5,350.8 L466.0,351.4 L466.5,351.1 L467.0,350.6 L467.5,350.3 L468.0,350.2 L468.5,349.9 L469.0,349.9 L469.5,349.3 L470.0,348.7 L470.5,348.1 L471.0,347.7 L471.5,347.1 L472.0,346.4 L472.5,345.8 L473.0,345.8 L473.5,345.7 L474.0,345.3 L474.5,345.1 L475.0,344.9 L475.5,344.9 L476.0,344.9 L476.5,345.0 L477.0,344.8 L477.5,344.8 L478.0,345.0 L478.5,345.0 L479.0,345.2 L479.5,345.2 L480.0,345.3 L480.5,345.4 L481.0,345.0 L481.5,345.1 L482.0,345.5 L482.5,345.5 L483.0,345.6 L483.5,345.7 L484.0,345.7 L484.5,345.8 L485.0,346.0 L485.5,346.1 L486.0,346.0 L486.5,346.1 L487.0,346.1 L487.5,346.2 L488.0,346.4 L488.5,346.5 L489.0,346.3 L489.5,347.0 L490.0,347.7 L490.5,348.4 L491.0,349.4 L491.5,349.9 L492.0,350.3 L492.5,350.7 L493.0,351.1 L493.5,351.1 L494.0,351.4 L494.5,351.5 L495.0,351.7 L495.5,351.8 L496.0,351.8 L496.5,351.8 L497.0,351.7 L497.5,351.7 L498.0,352.0 L498.5,352.0 L499.0,351.5 L499.5,351.5 L500.0,352.1 L500.5,352.4 L501.0,352.6 L501.5,352.9 L502.0,353.0 L502.5,353.2 L503.0,353.6 L503.5,353.7 L504.0,354.1 L504.5,354.2 L505.0,354.2 L505.5,355.9 L506.0,357.7 L506.5,359.4 L507.0,359.6 L507.5,359.8 L508.0,360.1 L508.5,360.3 L509.0,360.5 L509.5,360.7 L510.0,360.5 L510.5,360.5 L511.0,360.4 L511.5,360.4 L512.0,360.7 L512.5,360.7 L513.0,360.8 L513.5,360.9 L514.0,360.8 L514.5,360.9 L515.0,361.1 L515.5,361.1 L516.0,361.5 L516.5,361.5 L517.0,361.0 L517.5,361.0 L518.0,361.1 L518.5,361.1 L519.0,361.4 L519.5,361.4 L520.0,361.0 L520.5,361.0 L521.0,361.1 L521.5,361.4 L522.0,361.8 L522.5,362.1 L523.0,362.6 L523.5,362.9 L524.0,363.2 L524.5,363.3 L525.0,362.9 L525.5,363.0 L526.0,363.5 L526.5,363.5 L527.0,363.3 L527.5,363.3 L528.0,363.2 L528.5,362.9 L529.0,362.7 L529.5,362.5 L530.0,362.4 L530.5,362.2 L531.0,362.2 L531.5,361.9 L532.0,361.2 L532.5,361.2 L533.0,361.3 L533.5,361.3 L534.0,361.7 L534.5,361.7 L535.0,361.7 L535.5,361.7 L536.0,361.3 L536.5,361.4 L537.0,361.4 L537.5,361.4 L538.0,361.9 L538.5,361.9 L539.0,362.1 L539.5,362.2 L540.0,361.8 L540.5,361.8 L541.0,362.2 L541.5,362.3 L542.0,362.1 L542.5,362.2 L543.0,362.6 L543.5,362.6 L544.0,362.3 L544.5,362.3 L545.0,362.3 L545.5,362.3 L546.0,362.5 L546.5,362.5 L547.0,362.8 L547.5,362.8 L548.0,362.2 L548.5,362.1 L549.0,362.1 L549.5,362.1 L550.0,362.1 L550.5,362.0 L551.0,362.3 L551.5,362.3 L552.0,360.9 L552.5,360.5 L553.0,360.5 L553.5,360.1 L554.0,359.9 L554.5,359.5 L555.0,358.6 L555.5,358.2 L556.0,358.1 L556.5,357.6 L557.0,356.9 L557.5,356.4 L558.0,356.2 L558.5,355.7 L559.0,355.3 L559.5,354.8 L560.0,353.8 L560.5,353.2 L561.0,353.1 L561.5,352.5 L562.0,351.6 L562.5,351.0 L563.0,350.7 L563.5,350.1 L564.0,349.0 L564.5,348.4 L565.0,348.2 L565.5,347.6 L566.0,346.7 L566.5,346.1 L567.0,345.7 L567.5,345.1 L568.0,344.4 L568.5,343.8 L569.0,343.8 L569.5,343.5 L570.0,342.8 L570.5,342.5 L571.0,342.2 L571.5,341.9 L572.0,341.6 L572.5,341.3 L573.0,340.9 L573.5,340.5 L574.0,340.1 L574.5,339.6 L575.0,339.5 L575.5,339.1 L576.0,338.5 L576.5,338.1 L577.0,337.8 L577.5,337.4 L578.0,336.6 L578.5,336.1 L579.0,335.9 L579.5,335.5 L580.0,334.8 L580.5,334.4 L581.0,334.1 L581.5,333.7 L582.0,333.6 L582.5,333.3 L583.0,333.0 L583.5,332.7 L584.0,332.4 L584.5,332.1 L585.0,331.6 L585.5,331.3 L586.0,330.6 L586.5,330.3 L587.0,330.1 L587.5,329.8 L588.0,329.6 L588.5,329.1 L589.0,328.8 L589.5,328.4 L590.0,327.9 L590.5,327.5 L591.0,326.8 L591.5,326.3 L592.0,326.1 L592.5,325.7 L593.0,324.8 L593.5,324.4 L594.0,324.2 L594.5,323.5 L595.0,322.9 L595.5,322.2 L596.0,321.0 L596.5,320.3 L597.0,319.6 L597.5,318.9 L598.0,318.3 L598.5,317.6 L599.0,316.8 L599.5,316.1 L600.0,315.4 L600.5,314.7 L601.0,314.2 L601.5,313.6 L602.0,312.9 L602.5,312.2 L603.0,311.4 L603.5,310.8 L604.0,310.2 L604.5,309.5 L605.0,308.6 L605.5,308.0 L606.0,307.5 L606.5,306.9 L607.0,306.2 L607.5,305.6 L608.0,305.1 L608.5,304.5 L609.0,304.1 L609.5,303.5 L610.0,303.2 L610.5,302.6 L611.0,301.8 L611.5,301.2 L612.0,300.9 L612.5,300.4 L613.0,299.8 L613.5,299.3 L614.0,298.5 L614.5,297.8 L615.0,297.1 L615.5,296.4 L616.0,295.3 L616.5,294.6 L617.0,294.4 L617.5,293.7 L618.0,292.6 L618.5,291.9 L619.0,291.7 L619.5,291.0 L620.0,290.1 L620.5,289.4 L621.0,288.6 L621.5,288.0 L622.0,288.0 L622.5,287.4 L623.0,286.3 L623.5,285.8 L624.0,285.7 L624.5,285.1 L625.0,284.4 L625.5,283.8 L626.0,283.3 L626.5,282.7 L627.0,282.0 L627.5,281.7 L628.0,281.2 L628.5,280.9 L629.0,280.8 L629.5,280.4 L630.0,280.0 L630.5,279.7 L631.0,279.5 L631.5,279.2 L632.0,279.0 L632.5,278.7 L633.0,277.8 L633.5,277.5 L634.0,277.3 L634.5,276.9 L635.0,276.8 L635.5,276.5 L636.0,275.9 L636.5,275.6 L637.0,275.5 L637.5,275.2 L638.0,274.9 L638.5,274.6 L639.0,274.1 L639.5,273.8 L640.0,273.4 L640.5,273.1 L641.0,273.1 L641.5,272.8 L642.0,272.3 L642.5,272.0 L643.0,271.9 L643.5,271.6 L644.0,270.9 L644.5,270.3 L645.0,270.0 L645.5,269.4 L646.0,268.4 L646.5,267.8 L647.0,267.4 L647.5,266.8 L648.0,266.0 L648.5,265.4 L649.0,265.5 L649.5,265.3 L650.0,264.7 L650.5,264.6 L651.0,264.6 L651.5,264.5 L652.0,264.1 L652.5,264.0 L653.0,264.0 L653.5,263.8 L654.0,263.6 L654.5,263.5 L655.0,263.4 L655.5,263.2 L656.0,263.0 L656.5,262.8 L657.0,262.5 L657.5,262.4 L658.0,262.2 L658.5,262.0 L659.0,261.6 L659.5,261.4 L660.0,261.2 L660.5,261.0 L661.0,260.8 L661.5,260.6 L662.0,260.9 L662.5,260.7 L663.0,260.4 L663.5,260.2 L664.0,260.1 L664.5,259.9 L665.0,259.5 L665.5,259.3 L666.0,258.9 L666.5,258.7 L667.0,258.4 L667.5,258.2 L668.0,258.3 L668.5,258.1 L669.0,258.2 L669.5,258.0 L670.0,257.8 L670.5,257.6 L671.0,257.0 L671.5,256.9 L672.0,256.9 L672.5,256.7 L673.0,256.4 L673.5,256.3 L674.0,256.2 L674.5,256.0 L675.0,256.1 L675.5,256.0 L676.0,255.6 L676.5,255.4 L677.0,255.4 L677.5,255.2 L678.0,254.9 L678.5,254.8 L679.0,254.7 L679.5,254.5 L680.0,254.3 L680.5,254.2 L681.0,254.2 L681.5,254.0 L682.0,253.5 L682.5,253.4 L683.0,253.8 L683.5,253.8 L684.0,253.2 L684.5,253.2 L685.0,253.1 L685.5,253.1 L686.0,253.5 L686.5,253.5 L687.0,253.2 L687.5,253.1 L688.0,252.9 L688.5,252.8 L689.0,253.0 L689.5,252.9 L690.0,253.2 L690.5,253.2 L691.0,253.1 L691.5,253.1 L692.0,253.0 L692.5,253.0 L693.0,253.0 L693.5,253.0 L694.0,252.8 L694.5,252.7 L695.0,253.0 L695.5,252.9 L696.0,252.5 L696.5,252.5 L697.0,252.6 L697.5,252.6 L698.0,252.7 L698.5,252.7 L699.0,252.5 L699.5,252.5 L700.0,252.2 L700.5,252.1 L701.0,252.1 L701.5,252.0 L702.0,252.2 L702.5,252.1 L703.0,251.8 L703.5,251.7 L704.0,251.5 L704.5,251.4 L705.0,251.5 L705.5,251.4 L706.0,251.0 L706.5,250.9 L707.0,251.1 L707.5,251.0 L708.0,250.7 L708.5,250.6 L709.0,250.6 L709.5,250.5 L710.0,250.3 L710.5,250.2 L711.0,250.4 L711.5,250.3 L712.0,249.8 L712.5,249.7 L713.0,250.0 L713.5,249.9 L714.0,249.7 L714.5,249.6 L715.0,249.2 L715.5,249.1 L716.0,248.9 L716.5,248.8 L717.0,248.8 L717.5,248.6 L718.0,248.6 L718.5,248.5 L719.0,248.7 L719.5,248.6 L720.0,248.3 L720.5,246.6 L721.0,242.0 L721.5,237.8 L722.0,236.7 L722.5,235.6 L723.0,234.1 L723.5,233.0 L724.0,232.3 L724.5,230.9 L725.0,229.5 L725.5,228.1 L726.0,226.7 L726.5,225.3 L727.0,224.0 L727.5,223.3 L728.0,222.3 L728.5,221.6 L729.0,221.1 L729.5,220.4 L730.0,219.8 L730.5,219.1 L731.0,218.3 L731.5,217.6 L732.0,217.0 L732.5,216.2 L733.0,215.1 L733.5,214.4 L734.0,213.6 L734.5,212.8 L735.0,212.2 L735.5,211.4 L736.0,210.8 L736.5,210.1 L737.0,209.5 L737.5,208.7 L738.0,207.9 L738.5,207.2 L739.0,206.3 L739.5,205.5 L740.0,204.7 L740.5,203.9 L741.0,203.4 L741.5,202.6 L742.0,201.6 L742.5,200.8 L743.0,200.1 L743.5,198.3 L744.0,195.9 L744.5,194.6 L745.0,194.9 L745.5,194.9 L746.0,194.7 L746.5,194.7 L747.0,195.2 L747.5,195.1 L748.0,193.9 L748.5,193.3 L749.0,192.6 L749.5,192.0 L750.0,191.6 L750.5,191.0 L751.0,190.6 L751.5,190.0 L752.0,188.9 L752.5,188.4 L753.0,187.8 L753.5,187.2 L754.0,186.6 L754.5,186.1 L755.0,185.4 L755.5,184.6 L756.0,184.1 L756.5,183.2 L757.0,182.2 L757.5,181.4 L758.0,180.8 L758.5,179.9 L759.0,178.6 L759.5,177.7 L760.0,177.0 L760.5,176.1 L761.0,174.9 L761.5,174.0 L762.0,173.3 L762.5,172.4 L763.0,171.9 L763.5,171.0 L764.0,169.9 L764.5,168.9 L765.0,167.8 L765.5,166.9 L766.0,166.2 L766.5,165.2 L767.0,163.9 L767.5,158.1 L768.0,156.9 L768.5,155.9 L769.0,155.2 L769.5,154.2 L770.0,153.3 L770.5,152.3 L771.0,151.7 L771.5,151.0 L772.0,150.1 L772.5,149.4 L773.0,148.8 L773.5,148.1 L774.0,147.6 L774.5,146.9 L775.0,146.0 L775.5,145.3 L776.0,144.3 L776.5,143.5 L777.0,143.2 L777.5,142.4 L778.0,141.4 L778.5,140.7 L779.0,140.3 L779.5,139.7 L780.0,139.1 L780.5,138.6 L781.0,137.9 L781.5,137.3 L782.0,136.5 L782.5,136.0 L783.0,135.6 L783.5,135.0 L784.0,134.2 L784.5,133.6 L785.0,133.3 L785.5,132.8 L786.0,132.1 L786.5,131.4 L787.0,130.5 L787.5,130.2 L788.0,130.0 L788.5,129.8 L789.0,129.4 L789.5,129.2 L790.0,129.0 L790.5,128.9 L791.0,128.7 L791.5,128.6 L792.0,128.5 L792.5,128.4 L793.0,128.0 L793.5,127.9 L794.0,127.8 L794.5,127.8 L795.0,128.3 L795.5,128.3 L796.0,127.9 L796.5,128.0 L797.0,128.1 L797.5,128.1 L798.0,128.4 L798.5,128.4 L799.0,128.3 L799.5,128.3 L800.0,128.3 L800.5,128.4 L801.0,128.2 L801.5,128.2 L802.0,127.9 L802.5,127.4 L803.0,127.4 L803.5,127.4 L804.0,127.4 L804.5,127.4 L805.0,127.4 L805.5,127.4 L806.0,127.3 L806.5,127.4 L807.0,127.5 L807.5,127.6 L808.0,127.4 L808.5,127.4 L809.0,127.6 L809.5,127.6 L810.0,127.5 L810.5,127.5 L811.0,127.7 L811.5,127.7 L812.0,127.7 L812.5,127.7 L813.0,128.3 L813,439 Z" fill="#4d4d4d"/>
<path d="M42,439 L42.0,408.8 L42.5,408.8 L43.0,409.8 L43.5,409.9 L44.0,409.4 L44.5,409.4 L45.0,409.9 L45.5,409.9 L46.0,410.3 L46.5,410.3 L47.0,409.7 L47.5,409.8 L48.0,409.7 L48.5,409.8 L49.0,409.2 L49.5,407.1 L50.0,405.3 L50.5,406.9 L51.0,408.8 L51.5,408.8 L52.0,409.0 L52.5,409.0 L53.0,409.1 L53.5,409.1 L54.0,408.5 L54.5,408.4 L55.0,408.0 L55.5,407.9 L56.0,408.2 L56.5,408.2 L57.0,409.0 L57.5,409.0 L58.0,407.9 L58.5,407.9 L59.0,408.2 L59.5,408.2 L60.0,408.8 L60.5,408.8 L61.0,407.5 L61.5,407.4 L62.0,408.2 L62.5,408.1 L63.0,408.6 L63.5,408.6 L64.0,407.5 L64.5,407.5 L65.0,407.9 L65.5,407.8 L66.0,408.1 L66.5,408.0 L67.0,406.8 L67.5,406.7 L68.0,407.1 L68.5,407.0 L69.0,407.2 L69.5,407.1 L70.0,406.8 L70.5,406.7 L71.0,406.3 L71.5,406.2 L72.0,405.7 L72.5,405.5 L73.0,405.8 L73.5,405.1 L74.0,404.2 L74.5,405.7 L75.0,407.3 L75.5,407.1 L76.0,406.6 L76.5,406.6 L77.0,407.1 L77.5,407.0 L78.0,406.9 L78.5,406.8 L79.0,406.0 L79.5,405.9 L80.0,406.2 L80.5,406.1 L81.0,405.6 L81.5,405.5 L82.0,405.7 L82.5,405.6 L83.0,405.4 L83.5,405.3 L84.0,405.6 L84.5,405.5 L85.0,405.1 L85.5,405.0 L86.0,405.0 L86.5,404.9 L87.0,405.2 L87.5,405.1 L88.0,404.6 L88.5,404.5 L89.0,405.1 L89.5,405.0 L90.0,403.9 L90.5,403.8 L91.0,404.5 L91.5,404.4 L92.0,403.8 L92.5,403.7 L93.0,403.6 L93.5,403.5 L94.0,403.7 L94.5,403.6 L95.0,403.4 L95.5,403.3 L96.0,403.0 L96.5,402.9 L97.0,402.3 L97.5,402.2 L98.0,402.2 L98.5,402.1 L99.0,402.8 L99.5,402.7 L100.0,402.4 L100.5,402.3 L101.0,402.4 L101.5,402.3 L102.0,402.6 L102.5,402.5 L103.0,402.0 L103.5,401.9 L104.0,400.9 L104.5,401.1 L105.0,401.6 L105.5,401.7 L106.0,402.2 L106.5,402.4 L107.0,402.0 L107.5,402.1 L108.0,403.3 L108.5,403.4 L109.0,403.5 L109.5,403.7 L110.0,403.7 L110.5,403.6 L111.0,403.0 L111.5,403.0 L112.0,403.4 L112.5,403.4 L113.0,402.3 L113.5,402.3 L114.0,402.5 L114.5,402.4 L115.0,402.6 L115.5,402.5 L116.0,402.9 L116.5,402.8 L117.0,402.4 L117.5,402.3 L118.0,401.8 L118.5,401.7 L119.0,402.0 L119.5,401.9 L120.0,401.8 L120.5,401.8 L121.0,401.7 L121.5,401.6 L122.0,401.4 L122.5,401.6 L123.0,402.1 L123.5,402.3 L124.0,402.6 L124.5,402.8 L125.0,403.4 L125.5,403.6 L126.0,403.8 L126.5,404.0 L127.0,403.8 L127.5,404.0 L128.0,404.1 L128.5,404.3 L129.0,405.0 L129.5,405.2 L130.0,405.5 L130.5,405.5 L131.0,405.1 L131.5,405.0 L132.0,405.2 L132.5,405.1 L133.0,405.2 L133.5,405.2 L134.0,403.9 L134.5,403.8 L135.0,404.9 L135.5,404.7 L136.0,403.7 L136.5,403.5 L137.0,403.6 L137.5,403.4 L138.0,400.8 L138.5,401.7 L139.0,402.4 L139.5,403.3 L140.0,403.4 L140.5,403.7 L141.0,404.7 L141.5,404.9 L142.0,404.4 L142.5,404.4 L143.0,404.8 L143.5,404.8 L144.0,405.4 L144.5,405.4 L145.0,404.9 L145.5,404.9 L146.0,405.1 L146.5,405.1 L147.0,405.3 L147.5,405.3 L148.0,405.4 L148.5,405.4 L149.0,405.4 L149.5,405.4 L150.0,404.3 L150.5,404.4 L151.0,405.1 L151.5,405.2 L152.0,405.3 L152.5,405.4 L153.0,405.0 L153.5,405.0 L154.0,405.8 L154.5,405.9 L155.0,406.1 L155.5,406.2 L156.0,406.6 L156.5,406.5 L157.0,406.6 L157.5,406.5 L158.0,405.3 L158.5,405.2 L159.0,405.2 L159.5,405.2 L160.0,405.7 L160.5,405.6 L161.0,404.8 L161.5,404.7 L162.0,404.7 L162.5,404.6 L163.0,405.0 L163.5,404.9 L164.0,404.3 L164.5,404.2 L165.0,405.0 L165.5,404.9 L166.0,404.9 L166.5,404.8 L167.0,403.6 L167.5,403.5 L168.0,404.1 L168.5,403.6 L169.0,403.6 L169.5,404.4 L170.0,405.4 L170.5,406.2 L171.0,405.4 L171.5,405.5 L172.0,405.4 L172.5,405.4 L173.0,406.3 L173.5,406.3 L174.0,406.3 L174.5,406.3 L175.0,405.2 L175.5,405.2 L176.0,403.1 L176.5,403.7 L177.0,404.7 L177.5,405.3 L178.0,406.1 L178.5,406.2 L179.0,405.4 L179.5,405.5 L180.0,406.3 L180.5,406.5 L181.0,406.8 L181.5,406.6 L182.0,406.1 L182.5,406.0 L183.0,405.3 L183.5,405.2 L184.0,404.9 L184.5,404.7 L185.0,404.9 L185.5,404.8 L186.0,405.4 L186.5,405.3 L187.0,404.0 L187.5,403.9 L188.0,403.7 L188.5,403.7 L189.0,404.1 L189.5,404.0 L190.0,403.5 L190.5,403.5 L191.0,403.5 L191.5,403.5 L192.0,403.2 L192.5,403.2 L193.0,403.8 L193.5,403.7 L194.0,403.9 L194.5,403.8 L195.0,403.4 L195.5,403.3 L196.0,402.9 L196.5,402.9 L197.0,403.0 L197.5,403.0 L198.0,403.2 L198.5,403.2 L199.0,403.5 L199.5,403.6 L200.0,403.8 L200.5,403.9 L201.0,403.2 L201.5,403.3 L202.0,403.1 L202.5,403.3 L203.0,404.3 L203.5,404.4 L204.0,404.6 L204.5,404.7 L205.0,404.3 L205.5,404.4 L206.0,404.9 L206.5,404.7 L207.0,404.7 L207.5,404.6 L208.0,404.2 L208.5,404.1 L209.0,404.2 L209.5,404.1 L210.0,403.2 L210.5,403.1 L211.0,403.2 L211.5,403.1 L212.0,403.0 L212.5,402.9 L213.0,402.6 L213.5,402.5 L214.0,403.1 L214.5,403.0 L215.0,402.1 L215.5,402.0 L216.0,402.4 L216.5,402.4 L217.0,401.8 L217.5,401.8 L218.0,402.1 L218.5,402.0 L219.0,402.1 L219.5,402.0 L220.0,401.8 L220.5,401.8 L221.0,402.1 L221.5,402.1 L222.0,402.1 L222.5,402.0 L223.0,401.8 L223.5,401.8 L224.0,402.2 L224.5,402.1 L225.0,401.6 L225.5,401.5 L226.0,401.4 L226.5,401.3 L227.0,401.4 L227.5,401.3 L228.0,401.2 L228.5,401.1 L229.0,400.9 L229.5,400.8 L230.0,401.3 L230.5,401.2 L231.0,401.1 L231.5,401.0 L232.0,400.2 L232.5,400.1 L233.0,400.3 L233.5,400.3 L234.0,400.2 L234.5,400.2 L235.0,400.4 L235.5,400.4 L236.0,400.3 L236.5,400.3 L237.0,400.5 L237.5,400.5 L238.0,400.9 L238.5,400.9 L239.0,400.4 L239.5,400.4 L240.0,400.7 L240.5,400.7 L241.0,400.7 L241.5,400.6 L242.0,400.7 L242.5,400.6 L243.0,399.9 L243.5,399.8 L244.0,400.4 L244.5,400.3 L245.0,400.4 L245.5,400.3 L246.0,399.9 L246.5,399.9 L247.0,399.5 L247.5,399.4 L248.0,399.7 L248.5,399.1 L249.0,398.5 L249.5,397.9 L250.0,397.2 L250.5,397.3 L251.0,396.9 L251.5,396.9 L252.0,397.7 L252.5,397.7 L253.0,397.7 L253.5,397.8 L254.0,397.4 L254.5,397.4 L255.0,397.3 L255.5,397.2 L256.0,397.5 L256.5,397.4 L257.0,397.4 L257.5,397.4 L258.0,397.0 L258.5,396.9 L259.0,396.6 L259.5,396.5 L260.0,396.7 L260.5,396.7 L261.0,396.4 L261.5,396.3 L262.0,396.6 L262.5,396.5 L263.0,396.0 L263.5,395.9 L264.0,395.8 L264.5,395.7 L265.0,395.8 L265.5,395.7 L266.0,395.6 L266.5,395.5 L267.0,395.3 L267.5,395.2 L268.0,395.2 L268.5,395.1 L269.0,395.2 L269.5,395.1 L270.0,394.8 L270.5,394.7 L271.0,394.3 L271.5,394.2 L272.0,394.4 L272.5,394.3 L273.0,394.2 L273.5,394.1 L274.0,394.0 L274.5,393.9 L275.0,393.5 L275.5,393.4 L276.0,393.4 L276.5,393.3 L277.0,393.7 L277.5,393.6 L278.0,393.4 L278.5,393.3 L279.0,393.2 L279.5,393.1 L280.0,392.9 L280.5,392.8 L281.0,392.5 L281.5,392.4 L282.0,392.7 L282.5,392.7 L283.0,392.2 L283.5,392.2 L284.0,392.3 L284.5,392.3 L285.0,392.2 L285.5,392.2 L286.0,392.0 L286.5,392.0 L287.0,391.8 L287.5,391.8 L288.0,391.8 L288.5,391.8 L289.0,391.9 L289.5,391.9 L290.0,391.6 L290.5,391.6 L291.0,391.6 L291.5,391.5 L292.0,391.5 L292.5,391.4 L293.0,391.4 L293.5,391.4 L294.0,391.7 L294.5,391.7 L295.0,391.4 L295.5,391.4 L296.0,391.0 L296.5,391.0 L297.0,391.5 L297.5,391.4 L298.0,391.3 L298.5,391.2 L299.0,391.4 L299.5,391.4 L300.0,391.1 L300.5,391.1 L301.0,391.0 L301.5,390.9 L302.0,391.3 L302.5,391.3 L303.0,390.8 L303.5,390.7 L304.0,390.8 L304.5,390.8 L305.0,390.9 L305.5,390.8 L306.0,391.1 L306.5,391.0 L307.0,390.4 L307.5,390.4 L308.0,390.5 L308.5,390.4 L309.0,390.5 L309.5,390.5 L310.0,390.5 L310.5,390.5 L311.0,390.0 L311.5,390.0 L312.0,390.4 L312.5,390.3 L313.0,390.1 L313.5,390.1 L314.0,390.0 L314.5,390.0 L315.0,389.8 L315.5,389.8 L316.0,389.7 L316.5,389.6 L317.0,390.1 L317.5,390.0 L318.0,390.1 L318.5,390.9 L319.0,390.8 L319.5,391.5 L320.0,392.3 L320.5,393.1 L321.0,393.0 L321.5,392.3 L322.0,391.8 L322.5,392.0 L323.0,392.2 L323.5,392.3 L324.0,391.9 L324.5,391.6 L325.0,391.3 L325.5,391.1 L326.0,390.7 L326.5,390.5 L327.0,390.6 L327.5,390.4 L328.0,390.4 L328.5,390.4 L329.0,390.7 L329.5,381.8 L330.0,380.8 L330.5,389.4 L331.0,389.4 L331.5,389.3 L332.0,389.9 L332.5,389.9 L333.0,389.8 L333.5,389.6 L334.0,388.8 L334.5,388.6 L335.0,388.4 L335.5,388.2 L336.0,388.0 L336.5,387.8 L337.0,388.3 L337.5,388.2 L338.0,387.6 L338.5,387.4 L339.0,387.1 L339.5,387.0 L340.0,387.3 L340.5,387.1 L341.0,386.3 L341.5,386.2 L342.0,386.5 L342.5,386.4 L343.0,385.7 L343.5,385.5 L344.0,385.3 L344.5,385.2 L345.0,385.7 L345.5,385.6 L346.0,385.5 L346.5,385.5 L347.0,385.1 L347.5,385.1 L348.0,385.0 L348.5,385.0 L349.0,385.4 L349.5,385.3 L350.0,384.6 L350.5,384.6 L351.0,384.8 L351.5,384.8 L352.0,385.5 L352.5,385.4 L353.0,385.4 L353.5,385.4 L354.0,375.4 L354.5,369.6 L355.0,368.9 L355.5,368.3 L356.0,368.2 L356.5,367.9 L357.0,367.4 L357.5,367.1 L358.0,367.0 L358.5,366.7 L359.0,366.5 L359.5,366.5 L360.0,366.3 L360.5,368.4 L361.0,370.7 L361.5,371.3 L362.0,371.8 L362.5,372.5 L363.0,372.5 L363.5,373.0 L364.0,373.9 L364.5,374.4 L365.0,374.9 L365.5,375.0 L366.0,375.0 L366.5,374.9 L367.0,374.7 L367.5,374.6 L368.0,374.4 L368.5,374.3 L369.0,374.4 L369.5,374.3 L370.0,373.7 L370.5,373.7 L371.0,373.8 L371.5,373.8 L372.0,374.0 L372.5,374.0 L373.0,374.2 L373.5,374.2 L374.0,373.8 L374.5,373.6 L375.0,373.2 L375.5,373.0 L376.0,372.9 L376.5,373.4 L377.0,374.0 L377.5,379.3 L378.0,383.4 L378.5,383.6 L379.0,384.1 L379.5,384.3 L380.0,384.7 L380.5,384.8 L381.0,384.6 L381.5,384.7 L382.0,385.4 L382.5,385.2 L383.0,384.7 L383.5,384.6 L384.0,384.6 L384.5,384.5 L385.0,384.7 L385.5,384.6 L386.0,384.3 L386.5,384.2 L387.0,383.9 L387.5,383.9 L388.0,384.1 L388.5,384.1 L389.0,383.9 L389.5,383.9 L390.0,384.1 L390.5,384.1 L391.0,383.7 L391.5,383.7 L392.0,383.4 L392.5,383.1 L393.0,383.3 L393.5,383.1 L394.0,382.8 L394.5,382.7 L395.0,382.4 L395.5,382.3 L396.0,381.8 L396.5,381.6 L397.0,382.1 L397.5,381.9 L398.0,381.1 L398.5,381.0 L399.0,381.6 L399.5,381.5 L400.0,380.9 L400.5,380.8 L401.0,380.6 L401.5,380.5 L402.0,380.9 L402.5,380.4 L403.0,379.9 L403.5,379.4 L404.0,378.8 L404.5,378.3 L405.0,377.8 L405.5,377.1 L406.0,375.9 L406.5,375.2 L407.0,375.1 L407.5,374.2 L408.0,373.2 L408.5,372.3 L409.0,371.2 L409.5,366.7 L410.0,362.4 L410.5,363.6 L411.0,364.5 L411.5,365.8 L412.0,367.5 L412.5,367.5 L413.0,367.3 L413.5,367.3 L414.0,366.8 L414.5,366.8 L415.0,366.8 L415.5,366.7 L416.0,366.7 L416.5,366.7 L417.0,366.8 L417.5,366.6 L418.0,366.3 L418.5,366.2 L419.0,366.1 L419.5,366.0 L420.0,366.0 L420.5,365.9 L421.0,365.5 L421.5,365.3 L422.0,365.1 L422.5,364.5 L423.0,363.6 L423.5,363.0 L424.0,362.3 L424.5,361.7 L425.0,361.1 L425.5,360.5 L426.0,359.6 L426.5,360.0 L427.0,360.9 L427.5,361.4 L428.0,361.2 L428.5,361.4 L429.0,361.9 L429.5,362.1 L430.0,362.6 L430.5,362.8 L431.0,362.4 L431.5,362.6 L432.0,363.2 L432.5,363.8 L433.0,364.6 L433.5,365.2 L434.0,365.9 L434.5,366.5 L435.0,365.8 L435.5,365.6 L436.0,365.5 L436.5,365.3 L437.0,365.3 L437.5,365.1 L438.0,364.7 L438.5,364.4 L439.0,364.4 L439.5,364.2 L440.0,363.8 L440.5,363.5 L441.0,362.6 L441.5,362.2 L442.0,362.0 L442.5,361.7 L443.0,361.7 L443.5,361.3 L444.0,360.6 L444.5,360.5 L445.0,360.3 L445.5,360.2 L446.0,360.0 L446.5,359.9 L447.0,359.7 L447.5,359.6 L448.0,359.8 L448.5,356.7 L449.0,353.4 L449.5,350.2 L450.0,350.2 L450.5,349.8 L451.0,348.8 L451.5,348.4 L452.0,348.6 L452.5,348.2 L453.0,347.2 L453.5,346.3 L454.0,345.9 L454.5,345.0 L455.0,343.8 L455.5,342.9 L456.0,342.4 L456.5,341.8 L457.0,341.0 L457.5,341.9 L458.0,342.6 L458.5,343.5 L459.0,345.0 L459.5,345.0 L460.0,344.8 L460.5,344.8 L461.0,344.5 L461.5,344.5 L462.0,344.8 L462.5,346.0 L463.0,347.0 L463.5,348.3 L464.0,349.0 L464.5,349.6 L465.0,350.2 L465.5,350.8 L466.0,351.4 L466.5,351.1 L467.0,350.6 L467.5,350.3 L468.0,350.2 L468.5,349.9 L469.0,349.9 L469.5,349.3 L470.0,348.7 L470.5,348.1 L471.0,347.7 L471.5,347.1 L472.0,346.4 L472.5,345.8 L473.0,345.8 L473.5,345.7 L474.0,345.3 L474.5,345.1 L475.0,344.9 L475.5,344.9 L476.0,344.9 L476.5,345.0 L477.0,344.8 L477.5,344.8 L478.0,345.0 L478.5,345.0 L479.0,345.2 L479.5,345.2 L480.0,345.3 L480.5,345.4 L481.0,345.0 L481.5,345.1 L482.0,345.5 L482.5,345.5 L483.0,345.6 L483.5,345.7 L484.0,345.7 L484.5,345.8 L485.0,346.0 L485.5,346.1 L486.0,346.0 L486.5,346.1 L487.0,346.1 L487.5,346.2 L488.0,346.4 L488.5,346.5 L489.0,346.3 L489.5,347.0 L490.0,347.7 L490.5,348.4 L491.0,349.4 L491.5,349.9 L492.0,350.3 L492.5,350.7 L493.0,351.1 L493.5,351.1 L494.0,351.4 L494.5,351.5 L495.0,351.7 L495.5,351.8 L496.0,351.8 L496.5,351.8 L497.0,351.7 L497.5,351.7 L498.0,352.0 L498.5,352.0 L499.0,351.5 L499.5,351.5 L500.0,352.1 L500.5,352.4 L501.0,352.6 L501.5,352.9 L502.0,353.0 L502.5,353.2 L503.0,353.6 L503.5,353.7 L504.0,354.1 L504.5,354.2 L505.0,354.2 L505.5,355.9 L506.0,357.7 L506.5,359.4 L507.0,359.6 L507.5,359.8 L508.0,360.1 L508.5,360.3 L509.0,360.5 L509.5,360.7 L510.0,360.5 L510.5,360.5 L511.0,360.4 L511.5,360.4 L512.0,360.7 L512.5,360.7 L513.0,360.8 L513.5,360.9 L514.0,360.8 L514.5,360.9 L515.0,361.1 L515.5,361.1 L516.0,361.5 L516.5,361.5 L517.0,361.0 L517.5,361.0 L518.0,361.1 L518.5,361.1 L519.0,361.4 L519.5,361.4 L520.0,361.0 L520.5,361.0 L521.0,361.1 L521.5,361.4 L522.0,361.8 L522.5,362.1 L523.0,362.6 L523.5,362.9 L524.0,363.2 L524.5,363.3 L525.0,362.9 L525.5,363.0 L526.0,363.5 L526.5,363.5 L527.0,363.3 L527.5,363.3 L528.0,363.2 L528.5,362.9 L529.0,362.7 L529.5,362.5 L530.0,362.4 L530.5,362.2 L531.0,362.2 L531.5,361.9 L532.0,361.2 L532.5,361.2 L533.0,361.3 L533.5,361.3 L534.0,361.7 L534.5,361.7 L535.0,361.7 L535.5,361.7 L536.0,361.3 L536.5,361.4 L537.0,361.4 L537.5,361.4 L538.0,361.9 L538.5,361.9 L539.0,362.1 L539.5,362.2 L540.0,361.8 L540.5,361.8 L541.0,362.2 L541.5,362.3 L542.0,362.1 L542.5,362.2 L543.0,362.6 L543.5,362.6 L544.0,362.3 L544.5,362.3 L545.0,362.3 L545.5,362.3 L546.0,362.5 L546.5,362.5 L547.0,362.8 L547.5,362.8 L548.0,362.2 L548.5,362.1 L549.0,362.1 L549.5,362.1 L550.0,362.1 L550.5,362.0 L551.0,362.3 L551.5,362.3 L552.0,361.8 L552.5,361.7 L553.0,361.5 L553.5,361.3 L554.0,361.3 L554.5,360.8 L555.0,360.6 L555.5,360.1 L556.0,359.3 L556.5,358.8 L557.0,358.5 L557.5,357.9 L558.0,357.4 L558.5,356.9 L559.0,356.4 L559.5,355.8 L560.0,355.3 L560.5,354.9 L561.0,354.8 L561.5,354.8 L562.0,354.5 L562.5,354.5 L563.0,354.8 L563.5,354.8 L564.0,354.6 L564.5,354.7 L565.0,355.4 L565.5,355.7 L566.0,355.7 L566.5,355.9 L567.0,356.6 L567.5,356.8 L568.0,356.9 L568.5,357.2 L569.0,357.2 L569.5,357.4 L570.0,358.1 L570.5,358.3 L571.0,358.1 L571.5,358.3 L572.0,358.6 L572.5,358.8 L573.0,359.0 L573.5,359.1 L574.0,358.9 L574.5,359.0 L575.0,359.2 L575.5,359.4 L576.0,359.7 L576.5,359.8 L577.0,359.9 L577.5,360.1 L578.0,360.2 L578.5,360.4 L579.0,360.5 L579.5,360.6 L580.0,360.8 L580.5,361.0 L581.0,361.4 L581.5,361.5 L582.0,361.3 L582.5,361.4 L583.0,361.5 L583.5,361.6 L584.0,361.6 L584.5,361.7 L585.0,361.7 L585.5,361.8 L586.0,362.0 L586.5,362.1 L587.0,362.5 L587.5,362.6 L588.0,362.7 L588.5,362.8 L589.0,362.5 L589.5,362.6 L590.0,362.8 L590.5,362.9 L591.0,363.0 L591.5,363.0 L592.0,363.0 L592.5,363.0 L593.0,362.7 L593.5,362.7 L594.0,362.6 L594.5,362.6 L595.0,363.0 L595.5,363.0 L596.0,362.6 L596.5,362.6 L597.0,362.7 L597.5,362.7 L598.0,362.9 L598.5,362.9 L599.0,362.8 L599.5,362.8 L600.0,362.6 L600.5,362.6 L601.0,362.8 L601.5,362.8 L602.0,362.9 L602.5,363.0 L603.0,362.7 L603.5,362.8 L604.0,363.1 L604.5,363.1 L605.0,363.0 L605.5,363.0 L606.0,363.0 L606.5,363.1 L607.0,363.5 L607.5,363.6 L608.0,363.5 L608.5,363.6 L609.0,363.2 L609.5,363.3 L610.0,363.6 L610.5,363.7 L611.0,363.6 L611.5,363.7 L612.0,363.8 L612.5,363.9 L613.0,364.1 L613.5,364.2 L614.0,364.0 L614.5,364.1 L615.0,364.3 L615.5,364.4 L616.0,364.2 L616.5,364.3 L617.0,364.5 L617.5,364.6 L618.0,364.9 L618.5,365.0 L619.0,365.0 L619.5,365.1 L620.0,364.9 L620.5,365.0 L621.0,365.1 L621.5,365.1 L622.0,365.4 L622.5,365.5 L623.0,365.5 L623.5,365.6 L624.0,366.0 L624.5,366.0 L625.0,365.7 L625.5,365.8 L626.0,366.2 L626.5,366.3 L627.0,366.0 L627.5,366.1 L628.0,366.5 L628.5,366.6 L629.0,366.7 L629.5,366.8 L630.0,366.5 L630.5,366.6 L631.0,366.8 L631.5,366.9 L632.0,367.3 L632.5,367.7 L633.0,367.9 L633.5,368.3 L634.0,368.5 L634.5,368.8 L635.0,369.6 L635.5,370.0 L636.0,370.2 L636.5,370.4 L637.0,370.3 L637.5,370.3 L638.0,370.3 L638.5,370.3 L639.0,370.7 L639.5,370.7 L640.0,370.6 L640.5,370.7 L641.0,371.0 L641.5,371.1 L642.0,370.7 L642.5,370.8 L643.0,370.8 L643.5,370.8 L644.0,371.4 L644.5,371.4 L645.0,371.2 L645.5,371.2 L646.0,371.5 L646.5,371.6 L647.0,371.5 L647.5,371.5 L648.0,371.8 L648.5,371.9 L649.0,372.0 L649.5,372.1 L650.0,371.7 L650.5,371.8 L651.0,372.0 L651.5,372.1 L652.0,372.1 L652.5,372.2 L653.0,372.8 L653.5,372.9 L654.0,372.8 L654.5,372.9 L655.0,373.2 L655.5,373.2 L656.0,373.4 L656.5,373.4 L657.0,373.4 L657.5,373.5 L658.0,373.6 L658.5,373.7 L659.0,373.8 L659.5,373.9 L660.0,373.8 L660.5,373.9 L661.0,374.1 L661.5,374.2 L662.0,374.3 L662.5,374.4 L663.0,374.2 L663.5,374.3 L664.0,374.2 L664.5,374.3 L665.0,374.6 L665.5,374.7 L666.0,374.4 L666.5,374.4 L667.0,374.7 L667.5,374.7 L668.0,374.8 L668.5,374.8 L669.0,375.1 L669.5,375.2 L670.0,374.8 L670.5,374.8 L671.0,375.0 L671.5,375.1 L672.0,375.1 L672.5,375.2 L673.0,375.4 L673.5,375.5 L674.0,375.7 L674.5,375.7 L675.0,375.5 L675.5,375.6 L676.0,375.7 L676.5,375.6 L677.0,375.3 L677.5,375.2 L678.0,375.1 L678.5,375.0 L679.0,374.8 L679.5,374.7 L680.0,374.5 L680.5,374.4 L681.0,374.7 L681.5,374.6 L682.0,374.4 L682.5,374.3 L683.0,374.0 L683.5,373.9 L684.0,373.9 L684.5,373.8 L685.0,373.6 L685.5,373.5 L686.0,373.2 L686.5,373.2 L687.0,373.6 L687.5,373.5 L688.0,373.6 L688.5,373.6 L689.0,373.4 L689.5,373.4 L690.0,373.0 L690.5,373.0 L691.0,373.2 L691.5,373.1 L692.0,373.0 L692.5,372.9 L693.0,372.9 L693.5,372.9 L694.0,372.9 L694.5,372.9 L695.0,373.2 L695.5,373.2 L696.0,373.1 L696.5,373.0 L697.0,372.9 L697.5,372.9 L698.0,372.9 L698.5,372.8 L699.0,372.2 L699.5,372.1 L700.0,372.1 L700.5,372.0 L701.0,371.9 L701.5,371.8 L702.0,371.7 L702.5,371.6 L703.0,371.9 L703.5,371.8 L704.0,371.6 L704.5,371.5 L705.0,371.6 L705.5,371.5 L706.0,371.6 L706.5,371.5 L707.0,371.2 L707.5,371.1 L708.0,371.1 L708.5,371.1 L709.0,371.4 L709.5,371.4 L710.0,370.9 L710.5,370.9 L711.0,371.4 L711.5,371.4 L712.0,371.0 L712.5,371.0 L713.0,370.8 L713.5,370.8 L714.0,370.9 L714.5,370.9 L715.0,370.8 L715.5,370.8 L716.0,371.2 L716.5,371.2 L717.0,370.7 L717.5,370.7 L718.0,370.7 L718.5,370.6 L719.0,370.9 L719.5,370.8 L720.0,370.5 L720.5,370.4 L721.0,370.3 L721.5,367.4 L722.0,363.9 L722.5,363.8 L723.0,363.6 L723.5,363.5 L724.0,363.6 L724.5,363.6 L725.0,363.3 L725.5,363.2 L726.0,363.1 L726.5,363.1 L727.0,363.0 L727.5,363.2 L728.0,365.2 L728.5,366.6 L729.0,366.5 L729.5,366.6 L730.0,366.6 L730.5,366.7 L731.0,366.8 L731.5,366.9 L732.0,367.1 L732.5,367.2 L733.0,367.4 L733.5,367.4 L734.0,367.4 L734.5,367.4 L735.0,367.6 L735.5,367.6 L736.0,367.6 L736.5,367.7 L737.0,367.9 L737.5,367.9 L738.0,367.8 L738.5,367.8 L739.0,367.5 L739.5,367.5 L740.0,367.6 L740.5,367.5 L741.0,367.9 L741.5,367.9 L742.0,367.5 L742.5,367.5 L743.0,367.6 L743.5,367.6 L744.0,367.3 L744.5,367.3 L745.0,367.5 L745.5,367.5 L746.0,367.7 L746.5,367.8 L747.0,367.6 L747.5,367.8 L748.0,368.4 L748.5,368.5 L749.0,368.4 L749.5,368.5 L750.0,368.6 L750.5,368.8 L751.0,369.1 L751.5,369.3 L752.0,369.6 L752.5,369.7 L753.0,369.8 L753.5,369.9 L754.0,369.9 L754.5,370.0 L755.0,369.8 L755.5,369.9 L756.0,370.2 L756.5,370.3 L757.0,370.5 L757.5,370.5 L758.0,370.8 L758.5,370.9 L759.0,370.6 L759.5,370.7 L760.0,370.9 L760.5,370.8 L761.0,370.9 L761.5,370.8 L762.0,370.8 L762.5,370.7 L763.0,370.3 L763.5,370.2 L764.0,370.7 L764.5,370.6 L765.0,370.1 L765.5,370.0 L766.0,370.4 L766.5,369.0 L767.0,367.3 L767.5,365.6 L768.0,364.7 L768.5,364.7 L769.0,364.6 L769.5,364.6 L770.0,364.5 L770.5,364.4 L771.0,364.4 L771.5,364.4 L772.0,364.7 L772.5,364.7 L773.0,364.5 L773.5,364.4 L774.0,364.3 L774.5,364.2 L775.0,363.9 L775.5,363.6 L776.0,363.7 L776.5,363.5 L777.0,363.2 L777.5,362.9 L778.0,362.7 L778.5,362.4 L779.0,362.4 L779.5,362.3 L780.0,361.9 L780.5,361.8 L781.0,362.0 L781.5,362.0 L782.0,361.8 L782.5,361.7 L783.0,361.8 L783.5,361.7 L784.0,361.5 L784.5,361.5 L785.0,361.4 L785.5,361.4 L786.0,361.3 L786.5,361.2 L787.0,361.0 L787.5,361.0 L788.0,361.0 L788.5,361.0 L789.0,360.6 L789.5,360.5 L790.0,360.7 L790.5,360.6 L791.0,360.8 L791.5,360.8 L792.0,360.3 L792.5,360.3 L793.0,360.4 L793.5,360.4 L794.0,360.5 L794.5,360.5 L795.0,360.3 L795.5,360.3 L796.0,360.0 L796.5,360.0 L797.0,360.0 L797.5,359.9 L798.0,360.0 L798.5,359.9 L799.0,359.7 L799.5,359.5 L800.0,359.4 L800.5,359.3 L801.0,359.3 L801.5,359.2 L802.0,359.1 L802.5,358.9 L803.0,358.4 L803.5,358.4 L804.0,358.9 L804.5,359.0 L805.0,358.8 L805.5,358.9 L806.0,359.1 L806.5,359.1 L807.0,358.9 L807.5,359.0 L808.0,359.2 L808.5,359.3 L809.0,359.7 L809.5,359.8 L810.0,359.9 L810.5,360.0 L811.0,359.7 L811.5,359.8 L812.0,359.8 L812.5,359.8 L813.0,360.3 L813,439 Z" fill="#c0c0ff"/>
<g fill="#000" shape-rendering="crispEdges">
<rect x="41" y="16" width="2" height="424"/>
<rect x="831" y="16" width="2" height="424"/>
<rect x="41" y="438" width="792" height="2"/>
<rect x="35" y="438" width="7" height="2"/>
<rect x="832" y="438" width="7" height="2"/>
<rect x="35" y="392" width="7" height="2"/>
<rect x="832" y="392" width="7" height="2"/>
<rect x="35" y="345" width="7" height="2"/>
<rect x="832" y="345" width="7" height="2"/>
<rect x="35" y="298" width="7" height="2"/>
<rect x="832" y="298" width="7" height="2"/>
<rect x="35" y="251" width="7" height="2"/>
<rect x="832" y="251" width="7" height="2"/>
<rect x="35" y="204" width="7" height="2"/>
<rect x="832" y="204" width="7" height="2"/>
<rect x="35" y="157" width="7" height="2"/>
<rect x="832" y="157" width="7" height="2"/>
<rect x="35" y="110" width="7" height="2"/>
<rect x="832" y="110" width="7" height="2"/>
<rect x="35" y="63" width="7" height="2"/>
<rect x="832" y="63" width="7" height="2"/>
<rect x="35" y="16" width="7" height="2"/>
<rect x="832" y="16" width="7" height="2"/>
<rect x="41" y="439" width="2" height="8"/>
<rect x="105" y="439" width="2" height="8"/>
<rect x="169" y="439" width="2" height="8"/>
<rect x="233" y="439" width="2" height="8"/>
<rect x="297" y="439" width="2" height="8"/>
<rect x="361" y="439" width="2" height="8"/>
<rect x="425" y="439" width="2" height="8"/>
<rect x="489" y="439" width="2" height="8"/>
<rect x="553" y="439" width="2" height="8"/>
<rect x="617" y="439" width="2" height="8"/>
<rect x="681" y="439" width="2" height="8"/>
<rect x="745" y="439" width="2" height="8"/>
<rect x="809" y="439" width="2" height="8"/>
</g>
<text x="21.1" y="447.4" text-anchor="end">0</text>
<text x="853.3" y="447.4">0</text>
<text x="21.1" y="401.4" text-anchor="end">1</text>
<text x="853.3" y="401.4">1</text>
<text x="21.1" y="354.4" text-anchor="end">2</text>
<text x="853.3" y="354.4">2</text>
<text x="21.1" y="307.4" text-anchor="end">3</text>
<text x="853.3" y="307.4">3</text>
<text x="21.1" y="260.4" text-anchor="end">4</text>
<text x="853.3" y="260.4">4</text>
<text x="21.1" y="213.4" text-anchor="end">5</text>
<text x="853.3" y="213.4">5</text>
<text x="21.1" y="166.4" text-anchor="end">6</text>
<text x="853.3" y="166.4">6</text>
<text x="21.1" y="119.4" text-anchor="end">7</text>
<text x="853.3" y="119.4">7</text>
<text x="21.1" y="72.4" text-anchor="end">8</text>
<text x="853.3" y="72.4">8</text>
<text x="21.1" y="25.4" text-anchor="end">9</text>
<text x="853.3" y="25.4">9</text>
<text x="42" y="473.7" text-anchor="middle">99</text>
<text x="106" y="473.7" text-anchor="middle">01</text>
<text x="170" y="473.7" text-anchor="middle">03</text>
<text x="234" y="473.7" text-anchor="middle">05</text>
<text x="298" y="473.7" text-anchor="middle">07</text>
<text x="362" y="473.7" text-anchor="middle">09</text>
<text x="426" y="473.7" text-anchor="middle">11</text>
<text x="490" y="473.7" text-anchor="middle">13</text>
<text x="554" y="473.7" text-anchor="middle">15</text>
<text x="618" y="473.7" text-anchor="middle">17</text>
<text x="682" y="473.7" text-anchor="middle">19</text>
<text x="746" y="473.7" text-anchor="middle">21</text>
<text x="810" y="473.7" text-anchor="middle">23</text>
<rect x="209" y="139" width="12" height="12" fill="#8080ff"/>
<rect x="209" y="179" width="12" height="12" fill="#4d4d4d"/>
<rect x="209" y="219.2" width="12" height="12.8" fill="#c0c0ff"/>
<text x="227" y="153" style="letter-spacing:0.3px">LTROs</text>
<text class="lg" x="226.7" y="193.6">APP &amp; PEPP</text>
<text x="226.7" y="233.7">Other</text>
</svg></body></html>
